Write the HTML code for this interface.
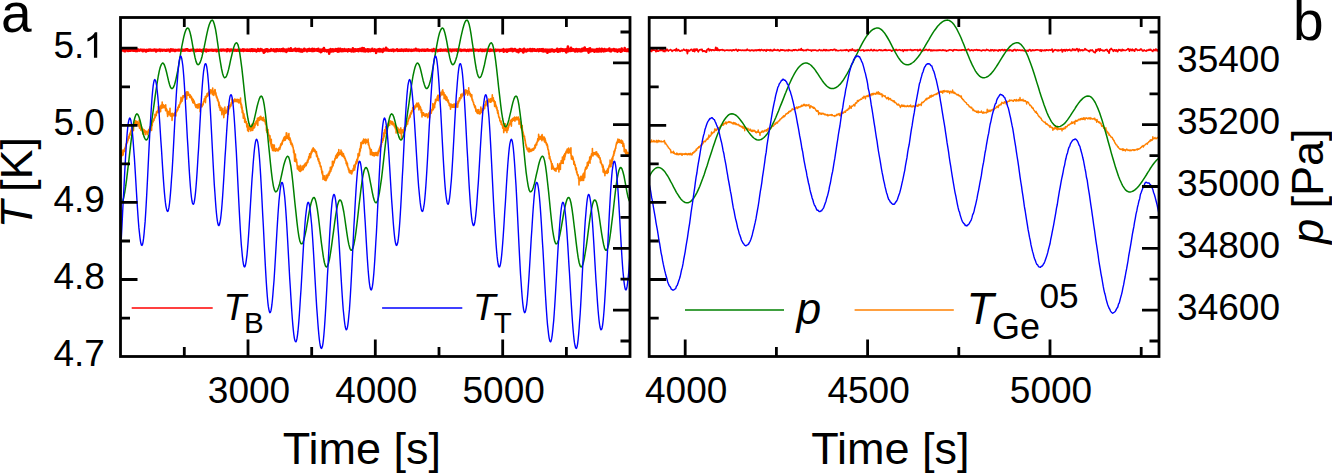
<!DOCTYPE html><html><head><meta charset="utf-8"><style>html,body{margin:0;padding:0;background:#fff;overflow:hidden}svg{display:block}</style></head><body>
<svg width="1332" height="473" viewBox="0 0 1332 473">
<rect width="1332" height="473" fill="#fff"/>
<defs><clipPath id="ca"><rect x="120.5" y="17.5" width="509.5" height="339.0"/></clipPath>
<clipPath id="cb"><rect x="649.2" y="17.5" width="509.8" height="339.0"/></clipPath></defs>
<path clip-path="url(#ca)" d="M120.6,50.0l.3,-.4l.2,1.2l.3,-1.6l.2,0l.3,1.2l.2,0l.3,.1l.2,-.5l.3,-.1l.2,-.2l.3,.5l.3,-.1l.2,-.8l.3,1.8l.2,-.5l.3,-1l.2,-.3l.3,-.2l.2,2.1l.3,-1.4l.2,-.7l.3,.7l.3,-.5l.2,.6l.3,.2l.2,0l.3,0l.2,-.4l.3,1.3l.2,-1.3l.3,1.1l.3,0l.2,-.8l.3,-.7l.2,1.4l.3,-.6l.2,-.7l.3,1.3l.2,-.5l.3,.3l.2,-.2l.3,-.8l.3,.7l.2,-.8l.3,.5l.2,.6l.3,-.1l.2,-1.5l.3,1.9l.2,-.6l.3,-.4l.2,-.5l.3,1.1l.3,.3l.2,-.8l.3,.7l.2,-.3l.3,-.4l.2,.6l.3,0l.2,.6l.3,-.9l.2,.1l.3,-.7l.3,.6l.2,.7l.3,-.2l.2,-1.1l.3,-.1l.2,.9l.3,-.4l.2,.3l.3,.3l.3,-.2l.2,-.1l.3,-.4l.2,.2l.3,-.4l.2,.3l.3,.3l.2,.1l.3,.1l.2,-.7l.3,.3l.3,.1l.2,-.2l.3,1.2l.2,-1.1l.3,.3l.2,-.5l.3,.2l.2,.2l.3,-.3l.2,-.1l.3,.6l.3,-.1l.2,.6l.3,-.4l.2,0l.3,.9l.2,-1.5l.3,.2l.2,-.2l.3,.4l.2,-.3l.3,.5l.3,-.4l.2,-.1l.3,-.2l.2,.7l.3,.1l.2,-.1l.3,-.9l.2,.6l.3,-.1l.2,.1l.3,-.6l.3,.5l.2,.1l.3,.3l.2,-.6l.3,.4l.2,0l.3,-.3l.2,-.1l.3,.2l.3,.3l.2,-.2l.3,-.4l.2,.5l.3,-.3l.2,-.3l.3,.6l.2,-.8l.3,.9l.2,.1l.3,0l.3,-.1l.2,.9l.3,-1.7l.2,0l.3,1.2l.2,-.8l.3,.1l.2,-.1l.3,.4l.2,0l.3,-.1l.3,-.2l.2,-.3l.3,.2l.2,.3l.3,-.1l.2,-.8l.3,.8l.2,.7l.3,-1.1l.2,.3l.3,.2l.3,-.5l.2,.1l.3,-.1l.2,-.1l.3,.4l.2,.4l.3,-.4l.2,0l.3,-.2l.3,.2l.2,-.1l.3,-.1l.2,.3l.3,-.3l.2,.3l.3,.1l.2,-.1l.3,.4l.2,-.3l.3,-.2l.3,-.2l.2,-.3l.3,.1l.2,.8l.3,-.7l.2,.1l.3,0l.2,.2l.3,-.4l.2,.1l.3,-.1l.3,.5l.2,0l.3,1.2l.2,-1.5l.3,.2l.2,.7l.3,-.6l.2,-.9l.3,1l.2,-.7l.3,.4l.3,.1l.2,-.1l.3,.1l.2,-.6l.3,1l.2,-.3l.3,.2l.2,-.3l.3,-.3l.3,.4l.2,.6l.3,.1l.2,-.6l.3,0l.2,-.3l.3,-.2l.2,.6l.3,-.3l.2,.1l.3,-.1l.3,.1l.2,-.3l.3,.3l.2,.1l.3,.1l.2,-.8l.3,.8l.2,0l.3,-.6l.2,.3l.3,.2l.3,-.6l.2,.1l.3,.2l.2,.1l.3,.1l.2,-.2l.3,.5l.2,-.3l.3,-.6l.2,1l.3,-.2l.3,0l.2,-.6l.3,.2l.2,.3l.3,-.2l.2,.4l.3,-.4l.2,-.4l.3,.5l.2,-.5l.3,.1l.3,.5l.2,-.2l.3,-.9l.2,.7l.3,-.2l.2,.2l.3,0l.2,-.7l.3,1.1l.3,.1l.2,0l.3,-.6l.2,.1l.3,.6l.2,-.3l.3,0l.2,.5l.3,0l.2,-.6l.3,0l.3,-.2l.2,-.1l.3,.3l.2,0l.3,0l.2,.2l.3,-.5l.2,-.3l.3,.2l.2,.5l.3,-.1l.3,-.8l.2,.9l.3,-.1l.2,-.3l.3,.1l.2,0l.3,.2l.2,.2l.3,-.4l.2,1.1l.3,-.6l.3,-.4l.2,-.2l.3,.6l.2,.1l.3,-.8l.2,.6l.3,-.2l.2,.2l.3,.2l.3,-.6l.2,.6l.3,-.1l.2,.1l.3,-.8l.2,.3l.3,-.2l.2,.3l.3,.5l.2,-.4l.3,.1l.3,-.1l.2,-.1l.3,1.3l.2,-1.5l.3,-.2l.2,0l.3,.3l.2,.4l.3,-.5l.2,.3l.3,-.4l.3,0l.2,.4l.3,.3l.2,-.1l.3,-.8l.2,.7l.3,-.1l.2,.5l.3,.5l.2,-1.3l.3,-.4l.3,.9l.2,.2l.3,-.6l.2,.4l.3,-.3l.2,0l.3,.4l.2,-.3l.3,-.5l.2,.5l.3,-.3l.3,0l.2,.4l.3,-.1l.2,0l.3,-.4l.2,-.1l.3,.4l.2,.1l.3,-.5l.3,.3l.2,.1l.3,-.3l.2,.8l.3,-.5l.2,.5l.3,-.5l.2,.1l.3,0l.2,-.2l.3,-.1l.3,.4l.2,-.1l.3,0l.2,-.4l.3,.4l.2,-.1l.3,-.1l.2,1.2l.3,-1.4l.2,.3l.3,-.2l.3,.3l.2,.2l.3,-.3l.2,.4l.3,-.5l.2,.4l.3,-.3l.2,.1l.3,-.2l.2,.4l.3,0l.3,-.7l.2,.5l.3,-.3l.2,-.4l.3,.3l.2,.7l.3,-.1l.2,-.5l.3,.1l.3,-.4l.2,.4l.3,-.1l.2,.2l.3,-.5l.2,.8l.3,-.4l.2,.3l.3,-.1l.2,-.1l.3,.1l.3,-.2l.2,.1l.3,-.3l.2,.4l.3,-.4l.2,1.3l.3,-1.4l.2,-.5l.3,.5l.2,.4l.3,-.1l.3,-.5l.2,-.1l.3,.5l.2,.2l.3,-.1l.2,1l.3,-1.3l.2,.4l.3,0l.2,-.3l.3,.1l.3,-.3l.2,-.1l.3,.7l.2,-.1l.3,0l.2,-.1l.3,-.1l.2,.4l.3,-.2l.2,.1l.3,-.3l.3,.4l.2,.2l.3,-.4l.2,-.2l.3,.5l.2,-.6l.3,.2l.2,.1l.3,0l.3,.4l.2,-.1l.3,-.3l.2,.4l.3,-.5l.2,-.3l.3,.4l.2,.2l.3,.1l.2,.1l.3,-.2l.3,-.3l.2,.1l.3,-.1l.2,.3l.3,-.5l.2,.3l.3,.1l.2,-.1l.3,.4l.2,-.5l.3,-.1l.3,.4l.2,-.5l.3,.2l.2,.2l.3,0l.2,-.9l.3,1.6l.2,-1.3l.3,.5l.2,-.6l.3,.9l.3,-.3l.2,.1l.3,-.2l.2,.3l.3,-.1l.2,-.4l.3,.4l.2,.2l.3,-.6l.3,.2l.2,.3l.3,-.7l.2,1l.3,-.8l.2,.5l.3,-.2l.2,.1l.3,.3l.2,-.1l.3,-.8l.3,.2l.2,.5l.3,-.3l.2,.8l.3,-.2l.2,-.5l.3,-.9l.2,1.4l.3,-.8l.2,.9l.3,-.9l.3,1.1l.2,-1.8l.3,1.1l.2,.1l.3,-.5l.2,.1l.3,-.1l.2,0l.3,.8l.2,-.5l.3,-.6l.3,.2l.2,1l.3,-.1l.2,-.2l.3,.9l.2,-1.2l.3,.2l.2,.2l.3,-.2l.3,.2l.2,-1.5l.3,1.1l.2,-.4l.3,.4l.2,.5l.3,-1l.2,1.3l.3,-.6l.2,.3l.3,-.3l.3,-.1l.2,-1.2l.3,.7l.2,.3l.3,-.2l.2,.5l.3,-.3l.2,-.4l.3,1l.2,.1l.3,-.7l.3,.8l.2,.2l.3,1.7l.2,-2.3l.3,.7l.2,-.8l.3,1.6l.2,-2.2l.3,1.2l.2,0l.3,-.2l.3,-.7l.2,-.7l.3,1.6l.2,-1.7l.3,0l.2,0l.3,1.5l.2,.5l.3,-.6l.2,-.1l.3,-.6l.3,.6l.2,-.5l.3,.1l.2,.8l.3,-.5l.2,.4l.3,-.8l.2,.4l.3,-.5l.3,-.8l.2,.9l.3,.2l.2,-.3l.3,.1l.2,0l.3,.4l.2,-.3l.3,-.2l.2,.4l.3,-1l.3,1.5l.2,-.9l.3,.5l.2,.3l.3,.6l.2,-1.6l.3,-.1l.2,1.1l.3,-1.3l.2,1.2l.3,.5l.3,-1.8l.2,.4l.3,-.5l.2,1l.3,-.3l.2,-.3l.3,.3l.2,-.1l.3,.9l.2,-1l.3,-.4l.3,1.4l.2,-.8l.3,.2l.2,.7l.3,0l.2,-.8l.3,-.2l.2,-.6l.3,1.2l.3,-.2l.2,-.8l.3,1.5l.2,-.7l.3,-.1l.2,-1.5l.3,2.3l.2,-.4l.3,-.4l.2,-.2l.3,-.4l.3,1.5l.2,-.2l.3,-.8l.2,.5l.3,.1l.2,-.4l.3,-.8l.2,2.4l.3,-2l.2,.5l.3,-.4l.3,.3l.2,.4l.3,-.5l.2,-.3l.3,-1l.2,1.5l.3,-.7l.2,.2l.3,-.5l.2,1.3l.3,-.9l.3,.2l.2,.8l.3,-2.6l.2,1l.3,.8l.2,.6l.3,-.1l.2,.1l.3,-.8l.2,1l.3,-1l.3,.3l.2,.3l.3,-.3l.2,.1l.3,-.8l.2,.4l.3,.2l.2,.4l.3,-1.6l.3,2l.2,-2l.3,1.9l.2,-.5l.3,.8l.2,-1.4l.3,.9l.2,-1.3l.3,0l.2,-.1l.3,1.2l.3,-.1l.2,-.6l.3,1.3l.2,-.7l.3,-1.3l.2,.8l.3,.8l.2,-.1l.3,-.2l.2,1.3l.3,-1l.3,-1l.2,.9l.3,-.3l.2,1.1l.3,.5l.2,-.9l.3,-1l.2,.7l.3,-.4l.2,.8l.3,-.8l.3,-.6l.2,1.4l.3,-2.1l.2,1.1l.3,.1l.2,-.8l.3,.7l.2,-.3l.3,.2l.3,.7l.2,.2l.3,.5l.2,-1l.3,-.5l.2,1.4l.3,-.6l.2,-.5l.3,-.6l.2,1.2l.3,-.8l.3,.1l.2,0l.3,-1l.2,1.3l.3,.4l.2,0l.3,-.3l.2,.2l.3,-.7l.2,-.2l.3,-.1l.3,-.5l.2,1.1l.3,1l.2,-2.2l.3,1.1l.2,.8l.3,-.2l.2,0l.3,-.7l.2,1l.3,-1.8l.3,1.6l.2,-.1l.3,-.6l.2,-.5l.3,.4l.2,.1l.3,-.5l.2,.9l.3,-.3l.2,-.8l.3,1.1l.3,.2l.2,0l.3,-.5l.2,.3l.3,-1.7l.2,1.3l.3,1l.2,.1l.3,-1.2l.3,.4l.2,.2l.3,-.6l.2,-.2l.3,2.5l.2,-2.5l.3,.7l.2,1.6l.3,-1.9l.2,.3l.3,-.8l.3,.4l.2,.3l.3,-.9l.2,.5l.3,.8l.2,-.8l.3,-1.9l.2,1.2l.3,.9l.2,1l.3,-.9l.3,-.1l.2,-.1l.3,0l.2,.1l.3,.3l.2,0l.3,1l.2,-.6l.3,-.5l.2,.4l.3,-.2l.3,-.4l.2,.3l.3,.8l.2,-.5l.3,.3l.2,2.7l.3,-3.8l.2,.4l.3,.7l.3,-.1l.2,-.7l.3,-1l.2,.5l.3,1.7l.2,-1l.3,-.1l.2,-.2l.3,-.5l.2,1.3l.3,-1.6l.3,2.1l.2,-1.3l.3,.9l.2,-1l.3,.9l.2,-.5l.3,0l.2,-.8l.3,1l.2,-.4l.3,-1l.3,1.6l.2,-1.6l.3,1.7l.2,-1.3l.3,-.3l.2,-.2l.3,.8l.2,1.1l.3,.6l.2,-.8l.3,-2l.3,1.4l.2,1.3l.3,-.7l.2,-.2l.3,-.1l.2,-.6l.3,-1.1l.2,1.2l.3,-.8l.3,.7l.2,1.3l.3,-1.3l.2,.2l.3,-.1l.2,-.7l.3,.8l.2,-.2l.3,1.2l.2,-.4l.3,-.3l.3,.3l.2,-.2l.3,.3l.2,-1.8l.3,.6l.2,0l.3,.9l.2,-.3l.3,0l.2,.6l.3,-.6l.3,-.1l.2,-.6l.3,.6l.2,.9l.3,-.2l.2,.5l.3,-1.5l.2,.6l.3,-1.2l.2,.8l.3,-.3l.3,.7l.2,.3l.3,-.8l.2,.1l.3,-.2l.2,-.2l.3,.8l.2,.8l.3,-1.2l.2,1.4l.3,-1.2l.3,.5l.2,-1.3l.3,1l.2,-2l.3,.7l.2,.4l.3,2l.2,-.7l.3,-.2l.3,-.5l.2,1l.3,.1l.2,-2l.3,.8l.2,.4l.3,-.4l.2,.8l.3,-.7l.2,-.2l.3,.7l.3,-1.2l.2,.8l.3,.1l.2,.3l.3,-1.3l.2,1.9l.3,-1.1l.2,-.2l.3,.3l.2,.3l.3,-.2l.3,-1.5l.2,1.7l.3,-.1l.2,-.7l.3,1.2l.2,-1l.3,.1l.2,.2l.3,.7l.2,-2.8l.3,1l.3,.2l.2,.6l.3,1.2l.2,.1l.3,-2.9l.2,1.9l.3,-.1l.2,0l.3,.1l.3,1.2l.2,-1.8l.3,1.3l.2,.1l.3,-.3l.2,-.2l.3,-.9l.2,.8l.3,-.3l.2,-.8l.3,1.9l.3,-1l.2,1.2l.3,-1.4l.2,.5l.3,-1.1l.2,1l.3,.5l.2,-.7l.3,-.1l.2,-.4l.3,.5l.3,.9l.2,-.8l.3,0l.2,-.1l.3,-.3l.2,.9l.3,-2l.2,1.8l.3,-.4l.2,-.4l.3,.9l.3,.2l.2,-.2l.3,-.4l.2,.3l.3,-.6l.2,-.6l.3,.7l.2,-.1l.3,.6l.2,-.9l.3,3.2l.3,-2.9l.2,.6l.3,.1l.2,-.7l.3,-.3l.2,-.1l.3,1.2l.2,.2l.3,-1.7l.3,2l.2,-1.9l.3,.8l.2,-1.1l.3,1.6l.2,.8l.3,-1.3l.2,-.4l.3,-.2l.2,.4l.3,-.5l.3,1.7l.2,-.6l.3,.4l.2,-.2l.3,.6l.2,.4l.3,-2.2l.2,0l.3,-.7l.2,1.8l.3,-.9l.3,-.1l.2,.8l.3,-.5l.2,-.1l.3,.4l.2,0l.3,-.1l.2,-2.4l.3,2.4l.2,-1.8l.3,2.1l.3,-.8l.2,.7l.3,-.3l.2,-.2l.3,.2l.2,-.4l.3,.6l.2,-.3l.3,.7l.3,-.3l.2,-.2l.3,0l.2,-.1l.3,.3l.2,-.2l.3,.3l.2,-.4l.3,0l.2,.6l.3,-.4l.3,-.5l.2,.5l.3,-.1l.2,-.5l.3,-.2l.2,1l.3,.6l.2,-1.3l.3,.4l.2,-.1l.3,0l.3,.3l.2,-.1l.3,-.2l.2,.3l.3,.1l.2,-.4l.3,.2l.2,0l.3,-1l.2,.8l.3,.2l.3,-.1l.2,.6l.3,-.5l.2,-.3l.3,.5l.2,-.3l.3,.5l.2,-.5l.3,.2l.2,-.5l.3,.8l.3,-.6l.2,-.2l.3,.4l.2,-.6l.3,.9l.2,-.8l.3,0l.2,.4l.3,.3l.3,-.6l.2,.4l.3,-.2l.2,.8l.3,-1.2l.2,.4l.3,.1l.2,-.2l.3,.5l.2,-.7l.3,.8l.3,-.5l.2,.6l.3,-.4l.2,-.9l.3,.7l.2,.1l.3,0l.2,.2l.3,-.6l.2,.3l.3,.8l.3,-.2l.2,-.9l.3,.4l.2,-.4l.3,.4l.2,-.2l.3,.5l.2,-.2l.3,.3l.2,-.6l.3,.1l.3,.7l.2,-1.1l.3,.4l.2,.3l.3,-.1l.2,.3l.3,.1l.2,-.7l.3,-.1l.3,.4l.2,-.5l.3,.1l.2,.5l.3,-.1l.2,-.1l.3,-.6l.2,.4l.3,.1l.2,-1.3l.3,1.3l.3,-.2l.2,.6l.3,-.2l.2,0l.3,-.1l.2,.3l.3,-.9l.2,0l.3,.4l.2,.2l.3,0l.3,-.2l.2,.9l.3,-.8l.2,.2l.3,-.2l.2,0l.3,0l.2,.1l.3,.3l.2,.1l.3,.1l.3,-.5l.2,-.5l.3,.4l.2,.4l.3,-.3l.2,.3l.3,0l.2,-.8l.3,.3l.3,.7l.2,-1l.3,.7l.2,-.2l.3,.3l.2,-.3l.3,.3l.2,-.6l.3,0l.2,0l.3,.4l.3,-.4l.2,-.4l.3,-.1l.2,1l.3,-.4l.2,.4l.3,.1l.2,.1l.3,-.2l.2,-.1l.3,-.2l.3,.4l.2,-.3l.3,.1l.2,0l.3,-.2l.2,-.1l.3,.4l.2,-.6l.3,.4l.2,0l.3,.9l.3,-1l.2,-.3l.3,.5l.2,.1l.3,-1.3l.2,1.1l.3,.1l.2,-.2l.3,.9l.2,-.8l.3,.4l.3,-.8l.2,.5l.3,-.4l.2,.3l.3,.1l.2,0l.3,-.1l.2,-.1l.3,-.1l.3,1.1l.2,-.8l.3,0l.2,.1l.3,-.4l.2,.4l.3,-.3l.2,0l.3,.5l.2,-.5l.3,-.5l.3,.7l.2,.3l.3,-.1l.2,-.8l.3,.8l.2,-.1l.3,-.2l.2,.4l.3,-.1l.2,-.3l.3,-.2l.3,-.2l.2,.6l.3,-.3l.2,.3l.3,.1l.2,-.3l.3,-.3l.2,.5l.3,-.7l.2,.7l.3,0l.3,-.2l.2,-.1l.3,.1l.2,-.2l.3,.4l.2,.7l.3,-.8l.2,0l.3,-.4l.3,.1l.2,.3l.3,-.7l.2,.6l.3,.2l.2,-.4l.3,0l.2,-.3l.3,.3l.2,.4l.3,-.2l.3,-.2l.2,1.3l.3,-1.2l.2,-.2l.3,.5l.2,-.5l.3,.6l.2,-.6l.3,.1l.2,.1l.3,-.2l.3,-.2l.2,.7l.3,-.4l.2,.4l.3,-.3l.2,-.2l.3,-.1l.2,.2l.3,0l.2,-.3l.3,1l.3,-.6l.2,.1l.3,-.7l.2,.6l.3,1.1l.2,-.5l.3,-.6l.2,.3l.3,-.2l.2,-.3l.3,-.2l.3,.1l.2,.4l.3,.2l.2,-.7l.3,.1l.2,.3l.3,.7l.2,-.8l.3,.6l.3,-.2l.2,-.3l.3,.3l.2,0l.3,-.3l.2,.4l.3,-.4l.2,.4l.3,-.5l.2,.3l.3,-.3l.3,.4l.2,.1l.3,-.6l.2,.2l.3,.2l.2,-.1l.3,.1l.2,.6l.3,-.5l.2,.2l.3,-.2l.3,-.5l.2,-.1l.3,.2l.2,.1l.3,.1l.2,.8l.3,-1.1l.2,-.1l.3,.3l.2,-.2l.3,.1l.3,.3l.2,-.2l.3,.4l.2,-.4l.3,.2l.2,-.2l.3,.2l.2,-.5l.3,.3l.3,-.2l.2,.4l.3,-.1l.2,-.3l.3,.3l.2,-.6l.3,-.3l.2,.5l.3,.7l.2,.1l.3,-.5l.3,-.3l.2,.7l.3,0l.2,-.5l.3,0l.2,.1l.3,-.3l.2,.1l.3,.4l.2,-.1l.3,-.3l.3,.5l.2,0l.3,.4l.2,-.5l.3,-.2l.2,0l.3,0l.2,.4l.3,-.2l.2,-.8l.3,.5l.3,-.1l.2,.5l.3,0l.2,.4l.3,-1l.2,.7l.3,-.6l.2,.1l.3,.8l.2,-.9l.3,.5l.3,-.3l.2,.2l.3,0l.2,.6l.3,-1l.2,0l.3,.6l.2,-.6l.3,0l.3,-.2l.2,.7l.3,.1l.2,-.8l.3,.5l.2,-.2l.3,.4l.2,.2l.3,-.5l.2,.5l.3,-.8l.3,.2l.2,.7l.3,-.4l.2,.7l.3,-1.1l.2,.1l.3,-.4l.2,.9l.3,.1l.2,-.9l.3,.3l.3,.3l.2,-.1l.3,-.1l.2,.4l.3,-.1l.2,-.3l.3,.2l.2,.2l.3,.3l.2,-.6l.3,.1l.3,.5l.2,-.5l.3,.7l.2,-.9l.3,-.4l.2,.3l.3,.8l.2,-.3l.3,-.5l.3,.5l.2,-.3l.3,.2l.2,-.3l.3,-.2l.2,-.1l.3,.2l.2,0l.3,.1l.2,.4l.3,-.5l.3,1.1l.2,-1.1l.3,.5l.2,-.1l.3,.2l.2,-.5l.3,.6l.2,-.8l.3,.2l.2,0l.3,.4l.3,-.5l.2,0l.3,.2l.2,-.4l.3,-.6l.2,2.5l.3,-1.3l.2,0l.3,-.6l.2,.1l.3,.4l.3,-.2l.2,.7l.3,-.9l.2,.5l.3,0l.2,-.4l.3,-.4l.2,2.1l.3,-1.8l.3,.4l.2,-.5l.3,1.1l.2,-1.3l.3,.1l.2,.8l.3,-.7l.2,.3l.3,-.5l.2,1l.3,0l.3,-.1l.2,-1.4l.3,.5l.2,.7l.3,-.8l.2,.8l.3,-.6l.2,-.8l.3,1l.2,1.3l.3,-2l.3,.7l.2,.7l.3,-.4l.2,-.3l.3,.7l.2,-.3l.3,-.2l.2,-1.1l.3,.9l.2,-.2l.3,.6l.3,.1l.2,.4l.3,.6l.2,-1.3l.3,.1l.2,.2l.3,-.3l.2,.7l.3,.8l.2,.2l.3,.4l.3,-2.4l.2,1.2l.3,-1.4l.2,.4l.3,-.8l.2,1.7l.3,-1.7l.2,1l.3,-.2l.3,.5l.2,-.2l.3,.5l.2,-.3l.3,-.5l.2,0l.3,-.5l.2,1.4l.3,0l.2,1.6l.3,-2.9l.3,.2l.2,-1l.3,.9l.2,.3l.3,1.1l.2,-1.2l.3,.4l.2,.5l.3,-.9l.2,1.3l.3,.1l.3,-1.6l.2,.5l.3,-.5l.2,.9l.3,.1l.2,-1.2l.3,1l.2,-.6l.3,.3l.2,.3l.3,-.1l.3,-.5l.2,-.3l.3,-.6l.2,.3l.3,1.7l.2,-1.5l.3,.2l.2,.8l.3,-1.1l.3,1l.2,-.2l.3,.8l.2,-1.6l.3,-.2l.2,.4l.3,.8l.2,-.2l.3,-.1l.2,.2l.3,-.9l.3,0l.2,.6l.3,.8l.2,0l.3,-.8l.2,.4l.3,.3l.2,.2l.3,-.8l.2,.3l.3,-.2l.3,-.5l.2,.5l.3,-.8l.2,.9l.3,.5l.2,.3l.3,-1.4l.2,.4l.3,.5l.2,-1.3l.3,.3l.3,1.2l.2,-.8l.3,.5l.2,0l.3,-1.1l.2,1.2l.3,-1.4l.2,1.8l.3,-1.1l.2,0l.3,-.5l.3,-.2l.2,2.3l.3,-1.1l.2,.1l.3,0l.2,-.5l.3,1.2l.2,-1.3l.3,1.2l.3,-.5l.2,.7l.3,-1.1l.2,-.5l.3,.1l.2,.2l.3,.9l.2,.1l.3,-1.2l.2,3l.3,-2.6l.3,-.2l.2,1.4l.3,-.7l.2,-.1l.3,-.8l.2,.1l.3,.2l.2,1.6l.3,-1.9l.2,1.5l.3,-1.3l.3,.4l.2,.5l.3,.3l.2,-1.6l.3,.7l.2,.7l.3,-1.5l.2,.4l.3,-.1l.2,1.5l.3,-1.1l.3,.8l.2,-.2l.3,.8l.2,-1.1l.3,-.4l.2,.5l.3,.4l.2,-1l.3,.6l.3,-.1l.2,-.1l.3,.2l.2,-.3l.3,-.2l.2,-1.4l.3,.9l.2,2l.3,-1.7l.2,.8l.3,.9l.3,-1.8l.2,1.5l.3,-1l.2,-.9l.3,.7l.2,.5l.3,.6l.2,-.8l.3,-1.3l.2,1l.3,-.9l.3,.7l.2,-.2l.3,-.3l.2,.9l.3,.5l.2,-1.5l.3,.6l.2,.7l.3,-1l.2,1l.3,-.6l.3,0l.2,-.4l.3,1.2l.2,-.7l.3,-.6l.2,.2l.3,2.2l.2,-1.4l.3,2l.2,-3.4l.3,1.4l.3,-.8l.2,.4l.3,.4l.2,-4l.3,3.1l.2,1.7l.3,-.2l.2,-.5l.3,-1.4l.3,.8l.2,.3l.3,-.6l.2,.5l.3,0l.2,.7l.3,-3.2l.2,2.5l.3,-1.4l.2,.7l.3,1.2l.3,-.3l.2,.1l.3,-1.3l.2,.6l.3,-.5l.2,.8l.3,-.1l.2,0l.3,.9l.2,-1.2l.3,.3l.3,-.5l.2,2l.3,-.8l.2,.3l.3,-1.2l.2,-.8l.3,.6l.2,.2l.3,.4l.2,1.2l.3,-1.2l.3,-.4l.2,-.4l.3,1.2l.2,-.7l.3,1.1l.2,.2l.3,-.8l.2,-1l.3,1.4l.3,.1l.2,-.2l.3,-.6l.2,1.3l.3,-1.9l.2,1.7l.3,-2.2l.2,1.2l.3,-1.2l.2,1.9l.3,-1.3l.3,.5l.2,0l.3,.3l.2,-2.2l.3,2.1l.2,-1.6l.3,1.7l.2,-2.9l.3,2.4l.2,.6l.3,-.8l.3,.6l.2,-.8l.3,1l.2,-.3l.3,-.9l.2,.8l.3,.3l.2,-.2l.3,0l.2,-.8l.3,1l.3,2.2l.2,-1.8l.3,-2l.2,1.5l.3,-.1l.2,-.2l.3,-1.6l.2,2.4l.3,.5l.3,-.5l.2,.1l.3,-.1l.2,-1l.3,1.2l.2,-.7l.3,-.6l.2,-.1l.3,.6l.2,-.1l.3,-.2l.3,-.1l.2,1.5l.3,-.8l.2,1.2l.3,-1.3l.2,-.5l.3,.6l.2,-.8l.3,.3l.2,.2l.3,.9l.3,-.3l.2,.5l.3,-2.3l.2,.9l.3,.5l.2,1.1l.3,-.9l.2,.6l.3,-.8l.2,1.1l.3,-2l.3,-.7l.2,1.3l.3,-.8l.2,2l.3,-1.3l.2,-.4l.3,.1l.2,.7l.3,1.1l.2,-.8l.3,-2l.3,1.2l.2,.5l.3,.6l.2,-.5l.3,-.9l.2,.3l.3,-.2l.2,1.7l.3,-.3l.3,-1.1l.2,-1l.3,.6l.2,.6l.3,.3l.2,-.3l.3,.7l.2,-.3l.3,.1l.2,-1.2l.3,1l.3,-.6l.2,.5l.3,-.3l.2,-.3l.3,-.5l.2,1.1l.3,-.2l.2,0l.3,.1l.2,-1.8l.3,1.2l.3,1.4l.2,-1.2l.3,.4l.2,.7l.3,.3l.2,-.9l.3,-.8l.2,.9l.3,-.1l.2,-.8l.3,.1l.3,-.1l.2,-.2l.3,.6l.2,.1l.3,-1.1l.2,1.6l.3,-.4l.2,.8l.3,-.7l.3,-.8l.2,.6l.3,.2l.2,.5l.3,-.2l.2,-.2l.3,-.3l.2,-.4l.3,.3l.2,1.7l.3,-1.1l.3,.3l.2,-.8l.3,.6l.2,.1l.3,-1.1l.2,1.2l.3,-1l.2,.2l.3,.1l.2,-.5l.3,1.1l.3,.4l.2,.5l.3,-1.5l.2,.6l.3,-2.2l.2,2.7l.3,-.8l.2,-.7l.3,.5l.2,-.4l.3,.2l.3,.1l.2,-.1l.3,.1l.2,-.4l.3,.9l.2,-2.6l.3,1.1l.2,.7l.3,.3l.2,.3l.3,.3l.3,-.7l.2,-.3l.3,.9l.2,.3l.3,-.9l.2,.4l.3,.2l.2,-1.4l.3,.9l.3,.9l.2,-1.2l.3,.5l.2,.2l.3,-.1l.2,-.5l.3,.1" fill="none" stroke="#ff0000" stroke-width="2.6" stroke-linejoin="round"/>
<path clip-path="url(#ca)" d="M120.6,152.4l.1,3l.2,-.7l.1,-1.4l.1,4.5l.1,-1.5l.2,-2.4l.1,-.4l.1,-1.2l.1,2.5l.2,-1.1l.1,-.4l.1,2.3l.2,-3.4l.1,1l.1,1.6l.1,-2l.2,2.3l.1,-5l.1,2.2l.1,2.7l.2,-1l.1,-1.2l.1,-.4l.2,-.2l.1,-.5l.1,-.7l.1,.6l.2,-.6l.1,-.4l.1,-.8l.1,-.6l.2,-.6l.1,2.5l.1,-1.9l.2,-1.1l.1,-.6l.1,.8l.1,0l.2,-2.1l.1,.4l.1,-1l.1,-1.1l.2,1.1l.1,-1.7l.1,.8l.2,-1.5l.1,.8l.1,-.3l.1,-.6l.2,-.9l.1,-.7l.1,.1l.2,.9l.1,-1.9l.1,.9l.1,-.4l.2,-1.7l.1,.5l.1,-1.5l.1,1.8l.2,-3.1l.1,-.5l.1,1.7l.2,-1.5l.1,-.4l.1,.9l.1,.8l.2,-3.4l.1,.8l.1,-.2l.1,0l.2,.1l.1,-2l.1,.6l.2,1l.1,-1.9l.1,-.8l.1,.5l.2,.3l.1,-2l.1,-.3l.1,.9l.2,-1.6l.1,-.3l.1,.5l.2,-2.3l.1,2.3l.1,-1.1l.1,.4l.2,.6l.1,-1.6l.1,-.9l.1,-.1l.2,-.8l.1,.4l.1,-1.4l.2,.4l.1,-1.3l.1,.8l.1,.4l.2,4.5l.1,-4.4l.1,-.9l.1,-1.4l.2,.3l.1,-.3l.1,-.9l.2,1.4l.1,-1.7l.1,-.5l.1,2l.2,-1.1l.1,-.9l.1,.8l.1,.2l.2,-1.5l.1,-1l.1,1.4l.2,1.3l.1,.9l.1,-2.4l.1,.7l.2,.8l.1,-2l.1,1l.1,-.4l.2,.1l.1,.2l.1,.3l.2,-1.1l.1,1.7l.1,-1.4l.1,1.5l.2,0l.1,1.2l.1,-.3l.1,.7l.2,-.4l.1,1.4l.1,-3l.2,1.9l.1,.3l.1,.7l.1,-1.4l.2,.6l.1,-5l.1,6.4l.2,1.7l.1,-2.5l.1,1.3l.1,.2l.2,-.7l.1,.2l.1,-1.5l.1,1.2l.2,.4l.1,-2l.1,5.4l.2,-3.9l.1,1.7l.1,.5l.1,-.1l.2,-1.9l.1,1.7l.1,-.9l.1,2.3l.2,-.3l.1,-.4l.1,.1l.2,0l.1,2.5l.1,-2.8l.1,1.8l.2,3.5l.1,-3.9l.1,.2l.1,-.5l.2,-.2l.1,.7l.1,1.9l.2,-2.6l.1,1.4l.1,.5l.1,-.2l.2,-1.5l.1,2.8l.1,-.1l.1,-2l.2,.2l.1,.6l.1,-.2l.2,0l.1,3.8l.1,-3.3l.1,1.6l.2,-1.4l.1,.7l.1,-1.3l.1,0l.2,.1l.1,.7l.1,.5l.2,-.5l.1,.7l.1,-.9l.1,.1l.2,.6l.1,-.3l.1,2.7l.1,-2.7l.2,.5l.1,1l.1,-1.8l.2,.6l.1,-.2l.1,-1.5l.1,1.4l.2,-.2l.1,-1.4l.1,0l.1,-1l.2,0l.1,.5l.1,.8l.2,-.9l.1,-1.2l.1,1.1l.1,-.7l.2,.3l.1,.6l.1,-.9l.1,-2.2l.2,.4l.1,1l.1,-.2l.2,-.4l.1,-.4l.1,-.6l.1,-1l.2,-1.9l.1,3.9l.1,-2.6l.2,5.3l.1,-6.3l.1,.7l.1,-.3l.2,.2l.1,1l.1,-1.6l.1,-1.6l.2,-1.4l.1,.8l.1,-.7l.2,.3l.1,.4l.1,0l.1,-.9l.2,-.7l.1,-1.3l.1,1.7l.1,-1.4l.2,1.2l.1,-.9l.1,-.8l.2,-.5l.1,.1l.1,-1.3l.1,.1l.2,-.8l.1,-2.2l.1,3.4l.1,-1.9l.2,-.6l.1,.1l.1,.1l.2,-.9l.1,1.4l.1,0l.1,-.9l.2,.7l.1,-3.7l.1,1.1l.1,-1.2l.2,.2l.1,.2l.1,-.9l.2,.5l.1,-.1l.1,.9l.1,-1.8l.2,.1l.1,.9l.1,.4l.1,-1.7l.2,-.9l.1,-3.1l.1,1.3l.2,1.7l.1,-1.4l.1,1.8l.1,-2.6l.2,5.6l.1,-4.1l.1,-1.3l.1,.4l.2,.3l.1,-.1l.1,0l.2,-1.1l.1,1l.1,-1.4l.1,-.6l.2,.4l.1,5.4l.1,-3.6l.1,-1.8l.2,-1.1l.1,.8l.1,-.3l.2,-.1l.1,-.1l.1,.9l.1,1.7l.2,-3.5l.1,1.3l.1,.4l.1,-4.4l.2,3.2l.1,.6l.1,.1l.2,-.6l.1,-.2l.1,2.8l.1,-2.3l.2,1.2l.1,-2l.1,.8l.2,.1l.1,.2l.1,.2l.1,-.6l.2,.1l.1,1.7l.1,-1l.1,-.6l.2,1.5l.1,.7l.1,-1l.2,-1.3l.1,2.5l.1,-1.1l.1,-.9l.2,4.5l.1,-5.9l.1,4l.1,.1l.2,-.3l.1,-.2l.1,2.3l.2,-1.8l.1,2.1l.1,-1.1l.1,1.2l.2,-1.1l.1,.8l.1,2.3l.1,.8l.2,-1.9l.1,4.6l.1,-3.1l.2,.6l.1,-1.7l.1,.6l.1,-1.1l.2,2.9l.1,-2.6l.1,.5l.1,1.2l.2,-2.4l.1,3.3l.1,-.1l.2,-.7l.1,-.6l.1,.4l.1,.4l.2,-.3l.1,-1.1l.1,-4.4l.1,5.5l.2,-.3l.1,2.5l.1,-1l.2,-.5l.1,1.5l.1,-2.3l.1,2.6l.2,-.6l.1,-1.5l.1,1.4l.1,-2.1l.2,2.1l.1,.6l.1,-2l.2,6.2l.1,-5l.1,.4l.1,-2.6l.2,.6l.1,1.2l.1,-.2l.1,.2l.2,-.7l.1,-.2l.1,1.5l.2,-1l.1,.9l.1,-.4l.1,-.8l.2,1l.1,-1.6l.1,2.1l.2,-.4l.1,-.2l.1,-2.2l.1,1.8l.2,-.5l.1,-.8l.1,1.1l.1,-.6l.2,-1.3l.1,.8l.1,-.1l.2,1.2l.1,1.4l.1,-5l.1,1.1l.2,.2l.1,-1.3l.1,1.2l.1,-1.3l.2,.2l.1,.3l.1,-1.9l.2,.6l.1,.4l.1,-.4l.1,-1.3l.2,-.6l.1,-.6l.1,2.4l.1,-2.9l.2,1.2l.1,-.5l.1,-.8l.2,.3l.1,-1.3l.1,-.1l.1,-.9l.2,.8l.1,-1l.1,2.5l.1,-1.7l.2,-1.2l.1,.2l.1,-.3l.2,-.3l.1,-.4l.1,-1.5l.1,.1l.2,1.3l.1,-.8l.1,-2.3l.1,-.1l.2,-3l.1,4.6l.1,.2l.2,-1.9l.1,-1.5l.1,.7l.1,.5l.2,-.2l.1,-.7l.1,2.2l.1,-2.5l.2,1.3l.1,-2l.1,-.1l.2,-.8l.1,-1.3l.1,-.1l.1,2.1l.2,-2.1l.1,.1l.1,.1l.1,.7l.2,-.5l.1,.5l.1,-.4l.2,.3l.1,-.9l.1,.1l.1,.2l.2,-.8l.1,1.8l.1,-3l.1,1.1l.2,-.3l.1,-.3l.1,.4l.2,-.7l.1,2.3l.1,-.5l.1,-3.6l.2,2.6l.1,0l.1,.7l.2,-1.2l.1,-1.2l.1,5.9l.1,-7.2l.2,1.1l.1,1.7l.1,-1.2l.1,.3l.2,1l.1,.5l.1,-2.3l.2,-1.1l.1,3.3l.1,-.6l.1,-1.9l.2,.3l.1,1.4l.1,-1.4l.1,1.3l.2,.9l.1,0l.1,-.6l.2,.1l.1,.2l.1,1.1l.1,-.2l.2,1.6l.1,-2l.1,.4l.1,-1.1l.2,1.3l.1,.8l.1,-.6l.2,-.3l.1,1l.1,-.3l.1,.3l.2,1.1l.1,-1l.1,-.5l.1,2l.2,.6l.1,.6l.1,.5l.2,-1.7l.1,1l.1,-1.3l.1,2.9l.2,-2.4l.1,2.8l.1,1.3l.1,-3.8l.2,2.1l.1,-1.5l.1,-.1l.2,2.8l.1,-.6l.1,-.4l.1,1.9l.2,-1l.1,-.1l.1,-1.1l.1,1l.2,1.3l.1,.2l.1,-.5l.2,1l.1,.5l.1,-.3l.1,1.4l.2,-.3l.1,-.7l.1,2.2l.1,-1.8l.2,2.4l.1,0l.1,-2.3l.2,1.4l.1,.6l.1,-2.3l.1,2l.2,.4l.1,0l.1,.5l.1,-2.4l.2,-.8l.1,.8l.1,-.2l.2,.9l.1,2.3l.1,-3.8l.1,2.6l.2,.8l.1,-1.5l.1,-1.1l.2,-.2l.1,-1.1l.1,2.6l.1,-.6l.2,.6l.1,-2.3l.1,2.2l.1,.1l.2,.5l.1,-.5l.1,-2.8l.2,2.5l.1,5.5l.1,-4.5l.1,-1.2l.2,-1.9l.1,1l.1,1.3l.1,.1l.2,-.2l.1,.5l.1,-1.3l.2,.3l.1,-.4l.1,.6l.1,-.9l.2,-.4l.1,.5l.1,1.5l.1,-1.5l.2,-.6l.1,.4l.1,-.6l.2,-.5l.1,.5l.1,-.4l.1,.8l.2,-1.7l.1,-1.3l.1,-.1l.1,-.5l.2,.3l.1,-.9l.1,-.3l.2,-1l.1,-.6l.1,1.9l.1,.2l.2,-.8l.1,-1.6l.1,1.2l.1,-1.2l.2,.6l.1,-2.5l.1,6l.2,-3.4l.1,-2.6l.1,1.9l.1,-1.1l.2,.2l.1,-1l.1,-.6l.1,1.3l.2,-1.5l.1,-.7l.1,1.5l.2,-.3l.1,-2.7l.1,2l.1,-.9l.2,-.2l.1,1.6l.1,-2.5l.1,-.2l.2,2.3l.1,-1.8l.1,-.2l.2,.8l.1,-.3l.1,-1.7l.1,.6l.2,-1.3l.1,2.9l.1,-2.5l.1,1.3l.2,-2l.1,1.9l.1,-1.5l.2,2.2l.1,-3l.1,.4l.1,-.4l.2,-1.2l.1,2.8l.1,.1l.2,-2l.1,2l.1,.1l.1,-1.8l.2,-.3l.1,-.6l.1,.4l.1,-.4l.2,2.3l.1,-2.5l.1,1.2l.2,-.2l.1,-.5l.1,.2l.1,4l.2,-3.1l.1,-3.6l.1,3.6l.1,1l.2,-.5l.1,-.3l.1,1.1l.2,-1.6l.1,1l.1,-.8l.1,4l.2,-3l.1,-1.4l.1,2.6l.1,-1.3l.2,1.3l.1,-.2l.1,0l.2,-4l.1,4.1l.1,-.4l.1,-3.3l.2,3.9l.1,-1.2l.1,1.5l.1,.3l.2,-1.7l.1,1.1l.1,2.3l.2,.2l.1,-1l.1,1.9l.1,.8l.2,-1l.1,.5l.1,-.6l.1,1.2l.2,0l.1,.1l.1,2.2l.2,-.1l.1,.3l.1,-1.4l.1,1.6l.2,.8l.1,-.6l.1,.3l.1,.9l.2,1.2l.1,2.2l.1,-3.5l.2,.9l.1,1.5l.1,.3l.1,2.9l.2,-1.9l.1,-.6l.1,.1l.1,1.8l.2,1.8l.1,1.5l.1,-1.2l.2,-1.9l.1,1.9l.1,-1.3l.1,.3l.2,1.5l.1,-2.5l.1,3.1l.1,-.3l.2,.9l.1,-.3l.1,-.3l.2,4.5l.1,-3l.1,-1.3l.1,2.2l.2,-2.9l.1,.9l.1,-.4l.2,1.9l.1,-3.8l.1,3.4l.1,.1l.2,-.8l.1,1.4l.1,.6l.1,-.5l.2,5l.1,-5.3l.1,-1l.2,3.7l.1,-3.6l.1,2.1l.1,-.3l.2,-.6l.1,-.8l.1,-4.7l.1,4.4l.2,.4l.1,1.5l.1,-.5l.2,-.4l.1,-.3l.1,-1.7l.1,2.2l.2,.1l.1,-1.4l.1,-.3l.1,1.6l.2,-2l.1,-.2l.1,0l.2,.2l.1,-.5l.1,-1.5l.1,2.7l.2,-.7l.1,.2l.1,-4.3l.1,4.9l.2,-1.7l.1,4.6l.1,-5.5l.2,2.6l.1,-1.7l.1,-.1l.1,-.1l.2,-3l.1,2.6l.1,-.2l.1,-1.5l.2,-.7l.1,1.4l.1,-.1l.2,-1.5l.1,-1.4l.1,1.7l.1,-.1l.2,-2l.1,.8l.1,-1.3l.1,.4l.2,-.4l.1,.3l.1,1.3l.2,-1.9l.1,-1.5l.1,1.2l.1,-.2l.2,-1.2l.1,.9l.1,-.8l.1,-3.4l.2,4l.1,-1.2l.1,-.1l.2,-.2l.1,.6l.1,.8l.1,-.4l.2,-1l.1,1.4l.1,-2.2l.1,.1l.2,-.2l.1,1.6l.1,-.6l.2,-.1l.1,-1.9l.1,.3l.1,.8l.2,-.6l.1,-1.1l.1,.5l.2,1.5l.1,.3l.1,0l.1,-1.6l.2,1.7l.1,-.9l.1,-.1l.1,.2l.2,.5l.1,-1.7l.1,1.1l.2,-.7l.1,1.4l.1,.3l.1,-.5l.2,-.8l.1,-.3l.1,1.3l.1,-1l.2,1.7l.1,-.8l.1,-.9l.2,-.1l.1,-.9l.1,.7l.1,.2l.2,.8l.1,-.3l.1,.6l.1,-.2l.2,-1.2l.1,3.1l.1,-1l.2,-.7l.1,.3l.1,-1.1l.1,.2l.2,2l.1,-2.7l.1,2.5l.1,-1.7l.2,1.6l.1,.4l.1,-.7l.2,-4l.1,4.9l.1,.7l.1,.7l.2,-1.2l.1,1.7l.1,.2l.1,2.4l.2,-1.6l.1,-1.1l.1,4.3l.2,-2.1l.1,0l.1,.7l.1,5.2l.2,-2.2l.1,1.4l.1,-1.6l.1,-.1l.2,2.1l.1,-.1l.1,.7l.2,5.3l.1,-5.1l.1,.6l.1,-.3l.2,.2l.1,1.2l.1,-.8l.1,2.8l.2,-.9l.1,1.3l.1,-.6l.2,5.4l.1,-4l.1,1.6l.1,-1.6l.2,1.4l.1,1.1l.1,-1.1l.1,1.7l.2,.8l.1,.7l.1,-.4l.2,.2l.1,-.8l.1,1.7l.1,-1.5l.2,1.6l.1,2l.1,1.4l.2,-1.9l.1,0l.1,-.1l.1,-.4l.2,-.5l.1,6.6l.1,-4.3l.1,.3l.2,.5l.1,-1.5l.1,1.9l.2,.1l.1,-1.5l.1,5.3l.1,-4.3l.2,-.2l.1,1.3l.1,.8l.1,-1.4l.2,-.6l.1,1.3l.1,.8l.2,-.7l.1,.5l.1,-1.5l.1,.3l.2,1.4l.1,-1.6l.1,1.4l.1,-.3l.2,2.3l.1,-2.2l.1,.2l.2,1.2l.1,.2l.1,-2.6l.1,.7l.2,.1l.1,-.7l.1,-3.6l.1,5.7l.2,-.5l.1,-.6l.1,.5l.2,-.4l.1,1.5l.1,-1.9l.1,.7l.2,-1.2l.1,.8l.1,-2.9l.1,.8l.2,1.4l.1,.4l.1,-1.2l.2,-2.9l.1,2l.1,-.4l.1,1.6l.2,-3.1l.1,1.3l.1,1.4l.1,-3.3l.2,-.9l.1,1.2l.1,1.2l.2,-2.5l.1,.4l.1,-.5l.1,2l.2,-.5l.1,-3l.1,1.4l.1,-.7l.2,.3l.1,-1l.1,1.8l.2,-.1l.1,-2.5l.1,1.3l.1,.5l.2,-1.1l.1,-2.9l.1,1.6l.2,-.2l.1,5.8l.1,-5.7l.1,.4l.2,-2.1l.1,1.8l.1,-.5l.1,.2l.2,-1.9l.1,2.7l.1,-.7l.2,-1.2l.1,1.9l.1,-1.9l.1,-.7l.2,.7l.1,-1.5l.1,0l.1,1.4l.2,-.9l.1,2.1l.1,-2l.2,-.6l.1,-.3l.1,-.5l.1,1.8l.2,.3l.1,-.5l.1,.5l.1,-.5l.2,1.9l.1,-2.1l.1,.2l.2,1.6l.1,-1.3l.1,-.3l.1,0l.2,1.4l.1,1.2l.1,-1.5l.1,.9l.2,-1.8l.1,.3l.1,1l.2,1.2l.1,-2.1l.1,1.5l.1,-2.6l.2,3.6l.1,-1.9l.1,1.1l.1,-.6l.2,.1l.1,-.1l.1,.4l.2,0l.1,1.6l.1,-1.4l.1,.4l.2,2.4l.1,-.8l.1,.4l.1,1.7l.2,-1.5l.1,2l.1,-.1l.2,1.1l.1,-1.2l.1,1.3l.1,4.9l.2,-3.9l.1,.5l.1,.8l.1,4.4l.2,-3.3l.1,.5l.1,-.6l.2,2.1l.1,.2l.1,0l.1,.2l.2,-2l.1,3.7l.1,-.6l.1,-.1l.2,1.5l.1,1.2l.1,.3l.2,-.8l.1,.9l.1,.2l.1,1.4l.2,-.7l.1,2.1l.1,-.3l.2,1.9l.1,-1.6l.1,-2.9l.1,6.3l.2,-1.6l.1,1.1l.1,.5l.1,1.1l.2,.7l.1,-.2l.1,.2l.2,1.8l.1,-6.4l.1,7.4l.1,-2.8l.2,4.1l.1,-1.1l.1,1.1l.1,-.8l.2,.7l.1,.3l.1,1.1l.2,1.2l.1,-2.1l.1,-3.9l.1,5.9l.2,0l.1,-1.2l.1,0l.1,1.4l.2,-1.1l.1,-.8l.1,.7l.2,-.9l.1,1.6l.1,-.4l.1,-4.6l.2,5.5l.1,-1.6l.1,.2l.1,1.4l.2,-.9l.1,0l.1,-.4l.2,1l.1,-.2l.1,-1l.1,2l.2,-1.6l.1,-.9l.1,1.8l.1,-.5l.2,-.4l.1,-.7l.1,-.3l.2,.8l.1,.6l.1,-.9l.1,.9l.2,.5l.1,.2l.1,.2l.1,0l.2,0l.1,-.1l.1,-1l.2,-.3l.1,0l.1,.5l.1,.8l.2,-2l.1,.1l.1,.3l.1,-.8l.2,-.8l.1,.2l.1,1.3l.2,-1l.1,0l.1,-.7l.1,1.9l.2,-2.5l.1,-.3l.1,1.2l.1,-2.1l.2,.6l.1,-2l.1,1.9l.2,-1.9l.1,1.4l.1,-.4l.1,-1.1l.2,.6l.1,-1.6l.1,1.5l.2,-.9l.1,.8l.1,-2.4l.1,2l.2,-1.6l.1,-.7l.1,-.9l.1,-.4l.2,1.1l.1,-1.3l.1,.7l.2,-.5l.1,-.2l.1,-.8l.1,-.9l.2,1.7l.1,-1.3l.1,-1.4l.1,-.3l.2,2.6l.1,.6l.1,-1.2l.2,-.3l.1,-1.7l.1,-.7l.1,.3l.2,1.1l.1,2.2l.1,-1.4l.1,-1.3l.2,.7l.1,.5l.1,-.2l.2,-1.9l.1,-1l.1,-2.6l.1,2.5l.2,2.2l.1,-1.8l.1,-2.7l.1,5.4l.2,-2.3l.1,-.4l.1,1.8l.2,-.1l.1,-.5l.1,1l.1,-.3l.2,-.5l.1,.6l.1,-.6l.1,1.2l.2,.7l.1,.2l.1,-4.8l.2,-.9l.1,4.4l.1,-.1l.1,.7l.2,1.3l.1,-.5l.1,-1.5l.1,2.6l.2,-2.7l.1,1.3l.1,.2l.2,-.3l.1,3.5l.1,-2.5l.1,.7l.2,.1l.1,3.5l.1,-2.4l.1,.7l.2,2l.1,-1.2l.1,.8l.2,-1.2l.1,.6l.1,.3l.1,0l.2,.8l.1,.2l.1,1.9l.1,-1.9l.2,.7l.1,1.3l.1,-.1l.2,1l.1,.3l.1,.9l.1,0l.2,3.7l.1,-2.2l.1,-.5l.2,3l.1,-2.2l.1,3.2l.1,.5l.2,3.5l.1,3.3l.1,-5.2l.1,-.2l.2,3.9l.1,-1.6l.1,.9l.2,-5.1l.1,2.8l.1,2.7l.1,1.1l.2,-1.3l.1,2.7l.1,-.9l.1,0l.2,1.1l.1,-3l.1,3.2l.2,.7l.1,-1l.1,2.6l.1,1.6l.2,-.9l.1,3.6l.1,-1.9l.1,-1.5l.2,1.1l.1,.4l.1,.8l.2,-1.8l.1,3.1l.1,.2l.1,-1l.2,1.7l.1,-1.6l.1,2l.1,-3.6l.2,1.6l.1,1.9l.1,-1.6l.2,2.4l.1,-.9l.1,-.7l.1,-.2l.2,.9l.1,-4.9l.1,4l.1,2.1l.2,-1l.1,0l.1,.3l.2,-.6l.1,-1.4l.1,1.2l.1,-1.7l.2,2.2l.1,-.4l.1,-1.8l.1,1.7l.2,-3.9l.1,1.3l.1,2.2l.2,-2.7l.1,1.6l.1,.4l.1,.1l.2,-2.3l.1,.8l.1,.7l.1,1.5l.2,-2.2l.1,-2l.1,.2l.2,2.2l.1,-1.8l.1,.7l.1,-1.1l.2,1.7l.1,-1l.1,-2.1l.1,2l.2,.3l.1,-2.4l.1,.3l.2,.6l.1,-.4l.1,-.5l.1,-1.2l.2,1.2l.1,.6l.1,1l.2,-.6l.1,.3l.1,-1.4l.1,-.7l.2,.3l.1,-1.2l.1,1.3l.1,-.7l.2,-.2l.1,-1.5l.1,.6l.2,-1.6l.1,-.4l.1,1.5l.1,1l.2,-2.4l.1,.7l.1,-1l.1,-.9l.2,.2l.1,.4l.1,-2.7l.2,2.3l.1,-2.9l.1,1.9l.1,.1l.2,-2.2l.1,0l.1,-2.1l.1,1.6l.2,.8l.1,-.2l.1,-1.7l.2,.5l.1,.1l.1,-1.7l.1,4.4l.2,-3.4l.1,-.3l.1,1l.1,-3.1l.2,2l.1,-1.7l.1,-.4l.2,1l.1,-1l.1,-1.7l.1,2.1l.2,-.8l.1,.4l.1,-2.6l.1,-.3l.2,1.9l.1,-1.8l.1,.9l.2,1l.1,-3l.1,1.8l.1,-.1l.2,.3l.1,-.6l.1,.6l.1,-.8l.2,.8l.1,-.8l.1,2.3l.2,-1.7l.1,1.6l.1,-1.3l.1,.8l.2,-.2l.1,-.6l.1,1.3l.1,-.3l.2,1.7l.1,-.9l.1,1.1l.2,0l.1,-1.1l.1,1.1l.1,1.2l.2,-2.5l.1,4.6l.1,-3.2l.1,2.1l.2,.1l.1,1.3l.1,-1.5l.2,2.5l.1,-1.4l.1,.5l.1,.2l.2,1.1l.1,1.8l.1,-1l.2,.8l.1,0l.1,-.4l.1,2.1l.2,-2.3l.1,1.3l.1,.3l.1,0l.2,1.3l.1,2l.1,-1.7l.2,1.2l.1,.3l.1,-1.2l.1,.5l.2,2.3l.1,.2l.1,1.2l.1,-.6l.2,-.3l.1,.3l.1,.4l.2,1l.1,-.8l.1,1.4l.1,1.7l.2,-.9l.1,1l.1,.5l.1,2.7l.2,-1.9l.1,1l.1,-.2l.2,2.5l.1,-3l.1,1.7l.1,2.4l.2,-.5l.1,4.5l.1,-3.1l.1,-.4l.2,1.2l.1,-.6l.1,1l.2,-.5l.1,.2l.1,1.3l.1,0l.2,-2.9l.1,3.2l.1,-.5l.1,-.3l.2,2.1l.1,-1.5l.1,1.6l.2,-2.1l.1,1.6l.1,-.9l.1,.7l.2,-.1l.1,-1.5l.1,2.7l.1,-3.2l.2,-2.3l.1,1.9l.1,2.9l.2,-3.2l.1,.3l.1,.6l.1,-.2l.2,-2.5l.1,1.1l.1,1.4l.1,.5l.2,-1.8l.1,1l.1,-.8l.2,-1l.1,.5l.1,-.1l.1,-2.6l.2,1.4l.1,0l.1,.1l.1,-1.7l.2,2.1l.1,-2.5l.1,-.8l.2,.9l.1,-1.7l.1,2.4l.1,-1.9l.2,.6l.1,-.9l.1,.9l.2,-4.7l.1,3l.1,.2l.1,-.2l.2,-1.4l.1,2.1l.1,-2.6l.1,1l.2,-2.5l.1,2.4l.1,-.6l.2,-1.8l.1,1.2l.1,-.8l.1,-.1l.2,-.8l.1,.6l.1,-5.8l.1,3.9l.2,1.1l.1,-2.3l.1,-1.1l.2,2.6l.1,-.5l.1,-1.4l.1,-1.9l.2,0l.1,-.3l.1,.7l.1,.8l.2,.1l.1,-1.5l.1,-.8l.2,.4l.1,-.3l.1,-.4l.1,-1.5l.2,.8l.1,-1.2l.1,-.4l.1,.5l.2,-.2l.1,-1.1l.1,-1.5l.2,.8l.1,1.5l.1,-.6l.1,.6l.2,-3.1l.1,.6l.1,.3l.1,-1.6l.2,2.4l.1,-1.4l.1,-1.5l.2,4l.1,-2.1l.1,-.8l.1,-1l.2,-1.4l.1,2l.1,-.8l.1,1.5l.2,.6l.1,-2.3l.1,0l.2,.1l.1,-4l.1,4.9l.1,.4l.2,-2.4l.1,2.3l.1,-1.2l.1,.5l.2,-.2l.1,-.6l.1,.5l.2,-.2l.1,-.9l.1,1.6l.1,-1l.2,-.4l.1,-.3l.1,-.7l.2,-1.8l.1,1.5l.1,2l.1,0l.2,1.5l.1,-2.4l.1,1.7l.1,-1.4l.2,-1l.1,4l.1,-2.1l.2,.7l.1,.5l.1,-.8l.1,-.3l.2,.6l.1,.2l.1,1.3l.1,.4l.2,-2.9l.1,1.4l.1,1.6l.2,.1l.1,-1.3l.1,.8l.1,1.6l.2,-1.2l.1,.3l.1,.7l.1,-.7l.2,1.8l.1,-.1l.1,-.2l.2,-.2l.1,.6l.1,1.6l.1,-.2l.2,.4l.1,.6l.1,-1.2l.1,1.1l.2,2.5l.1,-1l.1,.7l.2,-.5l.1,.3l.1,-1l.1,2l.2,1.6l.1,0l.1,-.6l.1,-1.8l.2,3.5l.1,-1l.1,1.5l.2,.2l.1,.1l.1,.2l.1,.9l.2,1.2l.1,-1.8l.1,.9l.1,.6l.2,.4l.1,2.2l.1,-2.5l.2,1.5l.1,1.4l.1,-1.9l.1,-.5l.2,1.8l.1,-.1l.1,1.1l.1,-.9l.2,.3l.1,.1l.1,0l.2,.4l.1,-.9l.1,-1.4l.1,1l.2,-.6l.1,3l.1,-1.8l.1,-.3l.2,1.9l.1,-1l.1,-2l.2,-.3l.1,1.8l.1,-1.9l.1,.5l.2,0l.1,-.1l.1,-.3l.2,-1l.1,-1.3l.1,0l.1,2.4l.2,-2.2l.1,.3l.1,.5l.1,-3.6l.2,1.1l.1,1.2l.1,-2.8l.2,.9l.1,1.6l.1,2.3l.1,-4.2l.2,1.3l.1,-1.2l.1,1.3l.1,-2.3l.2,-.9l.1,.8l.1,-1.7l.2,.9l.1,-1.6l.1,-.9l.1,1.9l.2,-.4l.1,.4l.1,.2l.1,-2.7l.2,-1.5l.1,.2l.1,1.3l.2,1.2l.1,-3.3l.1,1.7l.1,-2.1l.2,-.8l.1,1.4l.1,-5.1l.1,3.5l.2,-.3l.1,-2.6l.1,1.5l.2,-.8l.1,.5l.1,-.4l.1,-.2l.2,-1.5l.1,-1.5l.1,3.8l.1,-2.7l.2,-4.2l.1,1.3l.1,1.6l.2,-1.7l.1,-.2l.1,1.1l.1,-2.9l.2,-2.2l.1,1.7l.1,.2l.1,-5.3l.2,5.4l.1,-2.4l.1,-.1l.2,-.8l.1,-.4l.1,-.3l.1,-1.2l.2,.4l.1,0l.1,-.3l.1,-1.2l.2,-.5l.1,1.5l.1,-1.5l.2,-.3l.1,.7l.1,-.2l.1,2.2l.2,-.7l.1,-2.8l.1,-1l.1,2.8l.2,.3l.1,0l.1,.2l.2,-.5l.1,-1.9l.1,2.5l.1,-1.3l.2,1.3l.1,-.4l.1,-.2l.2,.2l.1,-2.7l.1,1.5l.1,2.8l.2,-3.1l.1,.7l.1,-1.9l.1,1l.2,2.3l.1,-2.8l.1,1l.2,.2l.1,.5l.1,.7l.1,-1.7l.2,.7l.1,1.1l.1,-.5l.1,-.2l.2,0l.1,-.6l.1,.8l.2,.1l.1,-2.9l.1,2.8l.1,2.8l.2,-2l.1,.7l.1,.8l.1,.9l.2,.1l.1,1.2l.1,-.2l.2,1l.1,1.2l.1,-.7l.1,1l.2,-.6l.1,1.2l.1,.7l.1,-.9l.2,5.7l.1,-2.4l.1,-.2l.2,1l.1,-.5l.1,-.5l.1,1l.2,-3.5l.1,4l.1,-1.4l.1,2l.2,-.1l.1,.1l.1,.8l.2,-.2l.1,.5l.1,-2.9l.1,1.1l.2,1.6l.1,-1.2l.1,1.6l.1,-1.5l.2,1l.1,-1.7l.1,.9l.2,-1.5l.1,1.5l.1,-.3l.1,.7l.2,1.3l.1,-3.1l.1,3.1l.1,-2.3l.2,1l.1,-.3l.1,-.8l.2,-.3l.1,.7l.1,1l.1,-2.1l.2,1.5l.1,-1.7l.1,1.1l.1,.9l.2,-1.5l.1,2.3l.1,-1.3l.2,.1l.1,-1l.1,-.4l.1,2.5l.2,-.8l.1,-.6l.1,-1.7l.2,2l.1,1.3l.1,-1.6l.1,-.4l.2,2.2l.1,-3.3l.1,-.3l.1,.3l.2,1.2l.1,-1.6l.1,-1.6l.2,1.9l.1,-.1l.1,-.8l.1,-.4l.2,-2.3l.1,2.7l.1,-3l.1,0l.2,-.8l.1,.5l.1,.2l.2,-2.3l.1,1.8l.1,-1.1l.1,1l.2,-1.6l.1,-1.2l.1,.5l.1,.1l.2,.9l.1,-2.6l.1,.2l.2,.4l.1,-5.2l.1,3.8l.1,-1.7l.2,-.3l.1,.3l.1,-.6l.1,1.6l.2,-1l.1,-.4l.1,-2.4l.2,1l.1,-1.2l.1,.6l.1,1.4l.2,-3.6l.1,1.8l.1,-5.4l.1,4.8l.2,-1.5l.1,0l.1,.1l.2,-.2l.1,-1.5l.1,-5l.1,4.2l.2,-.4l.1,-.2l.1,-.8l.1,-.3l.2,-.4l.1,1.4l.1,-1.4l.2,-5l.1,3.8l.1,-2.7l.1,3.1l.2,-1.9l.1,2l.1,-2.1l.1,-.4l.2,.6l.1,.3l.1,-.1l.2,-1.9l.1,.1l.1,-.2l.1,-.6l.2,-.7l.1,-.5l.1,.3l.1,-2.1l.2,.7l.1,-.2l.1,.1l.2,1.4l.1,-3.5l.1,3.3l.1,-1.5l.2,-1.3l.1,.6l.1,.4l.2,-1l.1,-1.9l.1,2.6l.1,1.6l.2,-3.5l.1,1.6l.1,-.3l.1,-.7l.2,-.3l.1,-1l.1,1.9l.2,-1.8l.1,.1l.1,1.6l.1,-.3l.2,-.9l.1,1.6l.1,-.6l.1,1.2l.2,-.2l.1,.8l.1,.1l.2,-2.9l.1,.6l.1,2.5l.1,-2.9l.2,2.3l.1,-1.2l.1,-.8l.1,2.7l.2,-1.6l.1,1.4l.1,0l.2,.4l.1,-.3l.1,-1l.1,1.1l.2,-1.1l.1,2.4l.1,-.7l.1,1.4l.2,-.7l.1,.7l.1,-.7l.2,1.4l.1,-.4l.1,-.6l.1,2.2l.2,-3l.1,3.5l.1,-2.4l.1,.5l.2,-1.5l.1,7.3l.1,-5.9l.2,-.4l.1,.6l.1,.9l.1,-.5l.2,2.2l.1,-.6l.1,1.2l.1,-3.4l.2,1.7l.1,1.5l.1,0l.2,.4l.1,0l.1,-2.8l.1,2.1l.2,.4l.1,1.8l.1,-1.9l.1,-.8l.2,2.5l.1,-1.7l.1,1l.2,-.7l.1,-1.4l.1,1.1l.1,-.7l.2,1.7l.1,-.9l.1,2.6l.1,-1.4l.2,1.8l.1,-1.2l.1,-.9l.2,-.1l.1,1.1l.1,-4.5l.1,4.4l.2,-1l.1,.8l.1,.7l.2,5.3l.1,-4.4l.1,-.5l.1,-.7l.2,-1.6l.1,1.7l.1,-2.7l.1,2.1l.2,-1.5l.1,1.4l.1,.8l.2,-2.2l.1,.8l.1,-1.5l.1,1.3l.2,-1l.1,1l.1,-1.9l.1,1.2l.2,2.2l.1,-3.2l.1,.9l.2,-2.8l.1,-.2l.1,1.2l.1,.7l.2,.9l.1,-.9l.1,-.7l.1,-.6l.2,1.3l.1,-2.4l.1,.3l.2,-.3l.1,-.4l.1,-1l.1,1.1l.2,-.4l.1,-.2l.1,-1.4l.1,-.9l.2,-.6l.1,1.6l.1,-.7l.2,-2l.1,-.3l.1,1.8l.1,.2l.2,.5l.1,-1.7l.1,-.9l.1,-.6l.2,.6l.1,-.9l.1,.4l.2,-2.4l.1,.6l.1,-.3l.1,-.1l.2,-.2l.1,-1.6l.1,.9l.1,-1.1l.2,.8l.1,-2.2l.1,-.2l.2,2.3l.1,-1.9l.1,1.2l.1,-.4l.2,-1.9l.1,-1.2l.1,-.5l.1,1.2l.2,.2l.1,-.6l.1,-1.3l.2,.4l.1,1.1l.1,-3.1l.1,1.3l.2,-1.3l.1,1.2l.1,-.3l.1,-1.2l.2,.8l.1,-1.5l.1,0l.2,-2.1l.1,.1l.1,2l.1,-.6l.2,-.1l.1,.4l.1,.2l.2,-.4l.1,.4l.1,-2l.1,-.4l.2,.1l.1,-.3l.1,-1l.1,3.2l.2,-.3l.1,-.5l.1,-1.3l.2,-.4l.1,1.2l.1,-.6l.1,-.1l.2,-.2l.1,-.7l.1,1.2l.1,-.8l.2,-2.3l.1,2.3l.1,-.5l.2,.3l.1,-1.7l.1,-1.1l.1,1.8l.2,-2.5l.1,2.8l.1,-1.8l.1,.4l.2,1.4l.1,.9l.1,-1.7l.2,-1.1l.1,.6l.1,1.1l.1,-.9l.2,-.1l.1,.6l.1,-2.2l.1,3l.2,1.6l.1,2.3l.1,-1.9l.2,-3.1l.1,.6l.1,.1l.1,1.7l.2,0l.1,-.5l.1,-.4l.1,2.3l.2,-.2l.1,-1.6l.1,1.6l.2,-.9l.1,1.7l.1,-.5l.1,2l.2,-.3l.1,2.1l.1,-2.3l.1,.7l.2,.8l.1,-1.7l.1,1.6l.2,5.2l.1,-4l.1,.4l.1,-.2l.2,1l.1,-.7l.1,1.9l.1,.1l.2,-2.5l.1,1.5l.1,-.4l.2,-1.2l.1,.1l.1,1.2l.1,-.6l.2,1.1l.1,-.6l.1,1.3l.2,-.1l.1,-1.2l.1,.5l.1,.9l.2,-.3l.1,0l.1,1.3l.1,-2.4l.2,2.5l.1,-.7l.1,-.4l.2,-.1l.1,-.6l.1,-.3l.1,.3l.2,.2l.1,-.3l.1,-.8l.1,1.8l.2,-1.5l.1,.9l.1,.8l.2,.4l.1,-.2l.1,.1l.1,-.8l.2,2.4l.1,-1.7l.1,0l.1,-.4l.2,.6l.1,-2.2l.1,-.3l.2,1.7l.1,-1.9l.1,1.3l.1,-1.3l.2,1.5l.1,-2.4l.1,3.7l.1,-2l.2,3.6l.1,-1.8l.1,-2.8l.2,-2.2l.1,2.5l.1,-.9l.1,0l.2,-1.2l.1,2.3l.1,-2.1l.1,.9l.2,-.7l.1,-.5l.1,-.6l.2,2.4l.1,-1.2l.1,-1.7l.1,-.1l.2,-.7l.1,.3l.1,1l.1,-.4l.2,-1.9l.1,.7l.1,-1.7l.2,1.9l.1,-5.8l.1,4.3l.1,-1.3l.2,1.1l.1,2l.1,-3.5l.1,-.5l.2,.9l.1,-.6l.1,.3l.2,-1.1l.1,-.9l.1,-.2l.1,1l.2,2.7l.1,-3.7l.1,-1.1l.1,-.7l.2,1l.1,.6l.1,-1.4l.2,-3.2l.1,2l.1,-.1l.1,.7l.2,-1.9l.1,.1l.1,0l.2,.3l.1,-.8l.1,-.4l.1,-.2l.2,1l.1,.1l.1,-1.4l.1,-1.8l.2,.3l.1,-.4l.1,2.1l.2,-3.5l.1,1.1l.1,.2l.1,-.7l.2,4.7l.1,-3.7l.1,-1.1l.1,.1l.2,-.5l.1,1.7l.1,.2l.2,-2.3l.1,2.4l.1,-2.3l.1,-.8l.2,1.3l.1,-1l.1,.4l.1,-.8l.2,2.4l.1,-3.2l.1,.7l.2,-1.1l.1,2l.1,.3l.1,-3l.2,2.6l.1,-1.5l.1,.6l.1,-.1l.2,-1.2l.1,1.2l.1,.8l.2,-2.1l.1,1.2l.1,-3.2l.1,3.1l.2,-.6l.1,.7l.1,-4.1l.1,3.4l.2,1.6l.1,-1.5l.1,-1.5l.2,3.2l.1,-1.1l.1,1.2l.1,-1.1l.2,0l.1,-1.2l.1,6l.1,-2.8l.2,-1l.1,.3l.1,.3l.2,.4l.1,.2l.1,.5l.1,-1.9l.2,2.2l.1,.8l.1,.3l.1,1.6l.2,-1.7l.1,.8l.1,-.1l.2,-2.5l.1,.8l.1,3.5l.1,-1l.2,-1.2l.1,-.8l.1,-.2l.1,.6l.2,2.2l.1,.3l.1,-.4l.2,.7l.1,-.6l.1,.1l.1,1.7l.2,.2l.1,-1.9l.1,-.1l.2,2.9l.1,-1l.1,.9l.1,-.4l.2,1.2l.1,-.4l.1,2.2l.1,0l.2,.4l.1,0l.1,-2.2l.2,.3l.1,.3l.1,1.8l.1,.1l.2,.4l.1,2.6l.1,-2.7l.1,-.6l.2,-1.9l.1,1.5l.1,1.2l.2,-2.2l.1,.1l.1,2.1l.1,-.5l.2,-1.6l.1,1.4l.1,1.2l.1,-1.4l.2,.6l.1,-.8l.1,1.6l.2,-1.2l.1,.7l.1,-.4l.1,-1.6l.2,1.7l.1,.2l.1,.5l.1,-.3l.2,-1.8l.1,.8l.1,.5l.2,-2.4l.1,3.2l.1,-.7l.1,.6l.2,-.4l.1,-.8l.1,1.7l.1,-1.4l.2,-.6l.1,-.4l.1,1.8l.2,.5l.1,-.4l.1,-.2l.1,-.2l.2,-1.5l.1,-.6l.1,.6l.1,.3l.2,1.5l.1,0l.1,-3.6l.2,1.1l.1,1.4l.1,-1.6l.1,.4l.2,.2l.1,.1l.1,-.5l.1,2.9l.2,-3.5l.1,-2.5l.1,1.4l.2,0l.1,.4l.1,-1l.1,-.4l.2,.3l.1,-1l.1,-.4l.1,-.1l.2,-2l.1,.8l.1,-1.4l.2,2.8l.1,-3l.1,1.2l.1,-.8l.2,.8l.1,-.8l.1,-.6l.2,1.2l.1,-1.1l.1,-3l.1,2.4l.2,-.3l.1,1.2l.1,-3.9l.1,2.3l.2,.4l.1,-1.7l.1,1l.2,.7l.1,-2l.1,.4l.1,-.5l.2,.2l.1,-.2l.1,-.5l.1,.8l.2,-1.2l.1,.1l.1,1.5l.2,-2.5l.1,.1l.1,.2l.1,.5l.2,-2.1l.1,1.5l.1,-1.4l.1,0l.2,.5l.1,.1l.1,-1.8l.2,2.4l.1,-.4l.1,-1.3l.1,1.4l.2,2.3l.1,-4.8l.1,1.6l.1,.5l.2,-2.3l.1,2.7l.1,-.5l.2,-.2l.1,-.5l.1,-.9l.1,.7l.2,1.4l.1,-.3l.1,-1.6l.1,2.5l.2,-2.3l.1,.4l.1,1.2l.2,-.9l.1,3.8l.1,-4.1l.1,1.1l.2,-1.4l.1,.4l.1,-.2l.1,2l.2,-.6l.1,-4.7l.1,4.5l.2,1.1l.1,-1.3l.1,-.9l.1,2l.2,.7l.1,-1.5l.1,1.1l.1,.6l.2,.3l.1,.6l.1,.7l.2,-.9l.1,.6l.1,-1.3l.1,.2l.2,2.3l.1,-1.3l.1,.2l.1,.5l.2,1.1l.1,-.9l.1,1.1l.2,-2.6l.1,4.3l.1,-.9l.1,1.4l.2,.8l.1,-1l.1,.1l.2,1.1l.1,1l.1,0l.1,.3l.2,.1l.1,.4l.1,.4l.1,-.5l.2,2.2l.1,.2l.1,.1l.2,-.2l.1,0l.1,1.5l.1,-.6l.2,1.7l.1,-.3l.1,-.2l.1,1.2l.2,-.3l.1,.5l.1,-2l.2,1.5l.1,1.3l.1,.4l.1,2.1l.2,-2.6l.1,2.2l.1,-.5l.1,.4l.2,.7l.1,.5l.1,-.4l.2,-.8l.1,0l.1,2.1l.1,-1l.2,1.6l.1,-2l.1,-1.7l.1,3.5l.2,-1.8l.1,1l.1,0l.2,-.3l.1,.1l.1,-.5l.1,0l.2,-2.2l.1,2.6l.1,0l.1,1.5l.2,.2l.1,-2.3l.1,1.7l.2,-1.5l.1,1.5l.1,-.4l.1,-.1l.2,-.2l.1,0l.1,1.1l.1,-.7l.2,.1l.1,-6.1l.1,4.8l.2,.5l.1,-1.3l.1,.2l.1,-2.4l.2,2.1l.1,.9l.1,.4l.1,-1.4l.2,-1.3l.1,.4l.1,1.1l.2,-1.7l.1,.5l.1,-1l.1,.1l.2,.3l.1,1.1l.1,-1l.1,-.7l.2,-.6l.1,0l.1,.2l.2,-.3l.1,-1l.1,-1l.1,1l.2,-.3l.1,-1l.1,3l.2,-2.6l.1,-1.4l.1,.9l.1,.3l.2,-1.1l.1,-.1l.1,-.6l.1,1.5l.2,-1.4l.1,-2.9l.1,.7l.2,1.2l.1,-.3l.1,.7l.1,-.2l.2,.7l.1,-3.2l.1,1.6l.1,-.8l.2,.7l.1,.5l.1,3.4l.2,-3.7l.1,-.7l.1,1.6l.1,-1.2l.2,-.6l.1,-.5l.1,.4l.1,.3l.2,-2.7l.1,2l.1,-.4l.2,-.9l.1,.1l.1,-.1l.1,.5l.2,.6l.1,-.3l.1,.7l.1,-.5l.2,1.4l.1,-1.4l.1,-1.7l.2,.6l.1,-.5l.1,1.3l.1,0l.2,1.7l.1,-3.6l.1,1.7l.1,.1l.2,-.2l.1,1.2l.1,-.8l.2,-1.9l.1,2.2l.1,-1.9l.1,1.8l.2,-5.9l.1,5.8l.1,-.6l.1,.4l.2,-1.6l.1,1.2l.1,.7l.2,-.4l.1,-2.7l.1,3.3l.1,.2l.2,.4l.1,-1.6l.1,1.2l.1,.4l.2,-1.1l.1,1.7l.1,.1l.2,4.1l.1,-4l.1,-.8l.1,.4l.2,.3l.1,-.6l.1,2l.1,.9l.2,-.4l.1,2.2l.1,-1.2l.2,0l.1,.6l.1,.7l.1,1.8l.2,-1.6l.1,2.1l.1,-.5l.2,-1l.1,2.4l.1,.6l.1,.7l.2,0l.1,.7l.1,1.5l.1,-1.3l.2,-1.3l.1,3.1l.1,-1.3l.2,1.2l.1,.3l.1,1.2l.1,1.2l.2,.3l.1,.8l.1,-.9l.1,.4l.2,.6l.1,.9l.1,-.6l.2,.2l.1,2.6l.1,-.6l.1,.6l.2,.3l.1,.4l.1,.4l.1,.2l.2,.4l.1,-.4l.1,.2l.2,-1l.1,3.3l.1,-1.7l.1,1.3l.2,.5l.1,-1.3l.1,.3l.1,1.5l.2,-.4l.1,.8l.1,-.5l.2,1.1l.1,1l.1,1.3l.1,-3.2l.2,1.6l.1,.2l.1,.4l.1,.4l.2,.7l.1,-.9l.1,5.1l.2,-2.1l.1,-1.6l.1,.7l.1,-1.8l.2,1.7l.1,-1.4l.1,-4.4l.1,4.9l.2,-.9l.1,.8l.1,2l.2,-6.7l.1,6.8l.1,-.3l.1,-2.2l.2,.2l.1,.8l.1,.2l.1,0l.2,-1.3l.1,1.5l.1,-2l.2,2.1l.1,-1.3l.1,4.3l.1,-4.5l.2,1l.1,.6l.1,.3l.2,-2.4l.1,.9l.1,-.6l.1,2.2l.2,-4l.1,2.8l.1,-2.8l.1,1l.2,.2l.1,0l.1,-2l.2,-.9l.1,.3l.1,.5l.1,-1l.2,.8l.1,-1.1l.1,.2l.1,-.5l.2,-.9l.1,1.2l.1,-1.4l.2,-2.1l.1,2.9l.1,.5l.1,-1.4l.2,-.9l.1,1.3l.1,0l.1,-1.3l.2,4.6l.1,-6.1l.1,1.4l.2,-2.2l.1,2.4l.1,-1.4l.1,1.2l.2,-.9l.1,.6l.1,-.9l.1,-1.6l.2,.5l.1,0l.1,.3l.2,.9l.1,-2.3l.1,.8l.1,1.1l.2,-1l.1,-1.1l.1,1.2l.1,1.1l.2,-.9l.1,-1.6l.1,2.8l.2,-3.4l.1,1.8l.1,-.5l.1,3l.2,-2.4l.1,-.2l.1,-1.2l.1,1.2l.2,-.1l.1,-.2l.1,.8l.2,.5l.1,-2l.1,.7l.1,-.8l.2,1.9l.1,-1l.1,-1.5l.1,2.6l.2,-1.2l.1,-.4l.1,0l.2,1.2l.1,-.6l.1,.5l.1,.2l.2,-.7l.1,-.7l.1,-.6l.1,2l.2,-2.3l.1,3.5l.1,-1.1l.2,1.3l.1,-.7l.1,4.2l.1,-5.5l.2,1.8l.1,1.2l.1,.3l.2,1.3l.1,-1.3l.1,1.4l.1,-1.9l.2,1.8l.1,.3l.1,-.5l.1,-1l.2,3.7l.1,1.8l.1,-1.8l.2,-.4l.1,.8l.1,-.8l.1,3.5l.2,-.6l.1,.2l.1,1.8l.1,-.3l.2,-.9l.1,-3.6l.1,5.5l.2,-1.3l.1,3l.1,.8l.1,-2.3l.2,1.1l.1,2l.1,-1.7l.1,3.6l.2,-2.3l.1,1.5l.1,-.1l.2,.5l.1,1.1l.1,.1l.1,-.2l.2,.1l.1,-.5l.1,2.8l.1,-1.1l.2,1.1l.1,1.8l.1,-1.2l.2,1.6l.1,2.1l.1,-.8l.1,1l.2,1.6l.1,-.1l.1,-.6l.1,.9l.2,1.3l.1,.7l.1,-1.2l.2,1.2l.1,.7l.1,.7l.1,.3l.2,.4l.1,.2l.1,-1.1l.1,.4l.2,.6l.1,-.6l.1,1l.2,-1.8l.1,3.1l.1,-1.3l.1,-1.7l.2,2.4l.1,-.4l.1,-.6l.1,1.6l.2,.5l.1,-2.1l.1,-.7l.2,.8l.1,-1.5l.1,1.6l.1,.3l.2,.5l.1,-.8l.1,.4l.1,.1l.2,-.7l.1,1.7l.1,-.6l.2,-.7l.1,1.2l.1,-1.3l.1,.2l.2,0l.1,-.8l.1,-.3l.2,.3l.1,.6l.1,.5l.1,-1.4l.2,1.4l.1,-.3l.1,-.4l.1,0l.2,-.4l.1,-.7l.1,-.3l.2,.5l.1,1.2l.1,-2l.1,1l.2,.6l.1,-.8l.1,0l.1,.2l.2,-.5l.1,-1l.1,0l.2,-.3l.1,-.5l.1,-1.3l.1,.1l.2,.3l.1,-1.2l.1,3.2l.1,-1.3l.2,-.9l.1,-1.1l.1,.4l.2,-.5l.1,-.7l.1,.2l.1,-1.1l.2,.6l.1,-.1l.1,1.5l.1,-2.3l.2,-.4l.1,.4l.1,-1.5l.2,0l.1,-.7l.1,1.3l.1,-2.9l.2,2.3l.1,-2.4l.1,2l.1,-1.3l.2,1.2l.1,-.7l.1,-5.6l.2,4.1l.1,.2l.1,-.3l.1,-.7l.2,.6l.1,-1.9l.1,2.4l.1,-.6l.2,1.3l.1,-.7l.1,-.3l.2,-1l.1,.2l.1,-1l.1,1l.2,-.2l.1,-1l.1,2.4l.1,-.9l.2,-.4l.1,-1.5l.1,2.5l.2,-.9l.1,-2.4l.1,.9l.1,4.6l.2,-6.2l.1,3.4l.1,-.7l.1,.9l.2,-1.8l.1,1.4l.1,-.9l.2,1.6l.1,.5l.1,-1.6l.1,1.3l.2,.4l.1,.7l.1,-1.7l.2,1l.1,-1.2l.1,1.4l.1,-2.3l.2,4.7l.1,-2.8l.1,-.1l.1,1.2l.2,.9l.1,-2.6l.1,4.1l.2,-2.6l.1,.8l.1,-.4l.1,1.7l.2,.2l.1,-.1l.1,.8l.1,.6l.2,-.8l.1,2l.1,-.1l.2,.3l.1,-.2l.1,.8l.1,-1.5l.2,1.6l.1,-1l.1,2.6l.1,-.4l.2,-.7l.1,3.1l.1,-.3l.2,.6l.1,-.2l.1,0l.1,1.8l.2,-.3l.1,3.6l.1,-2.2l.1,.5l.2,1l.1,-.1l.1,4.9l.2,-2.3l.1,.4l.1,.1l.1,-.2l.2,2.2l.1,-.1l.1,1.3l.1,-.8l.2,.7l.1,1l.1,.3l.2,-.2l.1,1.4l.1,-1l.1,.5l.2,1.6l.1,1l.1,-.5l.1,5.5l.2,-4.3l.1,.5l.1,3.5l.2,-5.1l.1,3.5l.1,.3l.1,-.1l.2,-.7l.1,-1.1l.1,2.4l.1,-1.1l.2,.8l.1,-.9l.1,1.4l.2,.4l.1,.4l.1,-.7l.1,0l.2,1.2l.1,-.1l.1,-.6l.1,1.2l.2,.1l.1,-.5l.1,-1.2l.2,1.7l.1,-.3l.1,.8l.1,-.5l.2,-.6l.1,.2l.1,-.4l.2,1.6l.1,-2.9l.1,1.4l.1,.1l.2,-1.7l.1,.4l.1,.7l.1,-1.1l.2,.3l.1,-.5l.1,.6l.2,0l.1,.3l.1,-1.6l.1,-3.2l.2,4.2l.1,-1l.1,-.2l.1,-.4l.2,.6l.1,2.1l.1,-2.5l.2,-.2l.1,5.4l.1,-5.2l.1,-.3l.2,.8l.1,-2.1l.1,.5l.1,-.2l.2,-1.7l.1,-.3l.1,1.6l.2,-.3l.1,.5l.1,4.3l.1,-6.4l.2,0l.1,.2l.1,-.5l.1,1l.2,-3.3l.1,.2l.1,1.3l.2,.8l.1,0l.1,-1.8l.1,1.3l.2,-.8l.1,.8l.1,1l.1,-6.3l.2,2.9l.1,.5l.1,-.4l.2,-1.4l.1,1.5l.1,3.3l.1,-4.2l.2,.6l.1,-2l.1,0l.1,-2.4l.2,1.4l.1,.5l.1,-.5l.2,-.2l.1,3l.1,-3.9l.1,-1.8l.2,1.7l.1,1.2l.1,-.8l.1,-.1l.2,-1.9l.1,.8l.1,-2.1l.2,-.6l.1,.7l.1,.2l.1,-1.5l.2,1.1l.1,-1.8l.1,1.7l.1,-1.2l.2,1.3l.1,-.4l.1,-2.5l.2,-.6l.1,0l.1,1.6l.1,-1.4l.2,1l.1,-.6l.1,1.1l.2,-1.7l.1,4.1l.1,-4.4l.1,1l.2,-1.7l.1,1.4l.1,.4l.1,1.3l.2,-.5l.1,-1.2l.1,2.3l.2,-1.6l.1,2.5l.1,-3.5l.1,1.6l.2,-.9l.1,.2l.1,.5l.1,1.2l.2,-1.5l.1,2.5l.1,.8l.2,-5.9l.1,5l.1,3.2l.1,-1.1l.2,4.2l.1,-2.9l.1,-.4l.1,1.4l.2,-.8l.1,-.3l.1,.8l.2,2.7l.1,-2l.1,-1.2l.1,2.8l.2,-2l.1,1.7l.1,0l.1,-.8l.2,1l.1,.9l.1,.7l.2,.6l.1,3.1l.1,-2.5l.1,2.1l.2,-1.9l.1,-.2l.1,1.6l.1,.5l.2,.8l.1,.6l.1,-1.2l.2,1.7l.1,0l.1,-.7l.1,2.1l.2,1.2l.1,.9l.1,.4l.1,-.7l.2,.6l.1,-1.8l.1,.2l.2,2.8l.1,2l.1,-.8l.1,-.8l.2,.5l.1,2.1l.1,0l.1,.8l.2,-.5l.1,1.4l.1,-.6l.2,0l.1,-.4l.1,1l.1,.2l.2,1l.1,1.9l.1,-.7l.1,-1l.2,.5l.1,7.6l.1,-5.5l.2,.3l.1,-.7l.1,-.5l.1,1.1l.2,.2l.1,-.7l.1,.8l.2,-1.9l.1,1.5l.1,-.6l.1,.8l.2,1l.1,-4.4l.1,3.3l.1,-.7l.2,-1.1l.1,1.1l.1,-2.1l.2,.6l.1,-.5l.1,-.3l.1,1.8l.2,2l.1,-.3l.1,-2.7l.1,-1.8l.2,1.5l.1,.8l.1,1.5l.2,-5.2l.1,2.2l.1,-2.7l.1,.4l.2,.7l.1,5.5l.1,-6.3l.1,-.3l.2,-1l.1,.5l.1,-.6l.2,-.3l.1,-.2l.1,2l.1,3.5l.2,-7.1l.1,.7l.1,-2.1l.1,.1l.2,.4l.1,-.9l.1,-1.2l.2,1.1l.1,-.1l.1,-.8l.1,.9l.2,.3l.1,-2.5l.1,-.2l.1,.3l.2,.2l.1,-1.1l.1,2.4l.2,-3.1l.1,-2.4l.1,.8l.1,2.6l.2,0l.1,-1l.1,-1l.1,-1.5l.2,3.3l.1,-4l.1,.6l.2,.1l.1,-.8l.1,.2l.1,-.8l.2,.8l.1,-.9l.1,-.6l.1,-.6l.2,.5l.1,-3.2l.1,1.5l.2,4.6l.1,-6.5l.1,.6l.1,2.9l.2,-1.2l.1,-2.1l.1,-.3l.2,.5l.1,1.8l.1,-3.5l.1,2.2l.2,-1.7l.1,-2l.1,.9l.1,-.1l.2,.7l.1,-1.1l.1,-.3l.2,0l.1,-5.4l.1,6.1l.1,0l.2,-2.5l.1,1.6l.1,2.2l.1,-1.1l.2,-.7l.1,-.7l.1,.4l.2,-.3l.1,.8l.1,-1.6l.1,.2l.2,.2l.1,-.4l.1,.4l.1,-.3l.2,.5l.1,-.7l.1,1.2l.2,-1.1l.1,2l.1,-2.4l.1,2l.2,-1.5l.1,-.1l.1,-.1l.1,-.3l.2,.8l.1,1.2l.1,-2.7l.2,.8l.1,0l.1,-.4l.1,2.6l.2,.4l.1,.9l.1,-2l.1,.4l.2,-.7l.1,1.5l.1,-1l.2,.7l.1,.2l.1,-1l.1,.8l.2,2l.1,.6l.1,-1.5l.1,1.5l.2,-.1l.1,-1.8l.1,1.6l.2,.3l.1,-.3l.1,0l.1,.9l.2,.3l.1,-.8l.1,1.8l.1,-1.4l.2,1.8l.1,2.9l.1,-2.3l.2,-.2l.1,.6l.1,1.6l.1,-.7l.2,1.2l.1,.2l.1,.8l.1,-.1l.2,0l.1,1.1l.1,-.3l.2,.8l.1,-.7l.1,1.2l.1,1.4l.2,-2.2l.1,.2l.1,-.3l.2,2.7l.1,4.4l.1,-5.8l.1,2l.2,1.5l.1,-1.5l.1,1.1l.1,1.8l.2,.3l.1,.2l.1,-1.8l.2,3.1l.1,-1.9l.1,2.7l.1,-1.4l.2,3.3l.1,-4.4l.1,1.1l.1,.2l.2,-.3l.1,-.8l.1,.8l.2,1l.1,-1.8l.1,.8l.1,.2l.2,-.2l.1,-1.2l.1,.6l.1,.6l.2,-1.7l.1,.5l.1,-.3l.2,2.6l.1,-3.5l.1,.5l.1,-1.4l.2,1.4l.1,-.4l.1,1.4l.1,-.9l.2,1.9l.1,-2.9l.1,-1.5l.2,.7l.1,-.7l.1,-1.2l.1,.5l.2,-.3l.1,-1.7l.1,.5l.1,-.7l.2,.5l.1,-1.1l.1,1.2l.2,-1.4l.1,-4.2l.1,6.5l.1,-3.1l.2,.6l.1,-.7l.1,-1.6l.1,.4l.2,4.6l.1,-4.3l.1,-.4l.2,1.1l.1,-1.8l.1,0l.1,.2l.2,-2.4l.1,-.9l.1,1.2l.1,4.3l.2,-3.8l.1,-2.8l.1,1l.2,1.2l.1,-3.2l.1,.3l.1,.3l.2,-.5l.1,-1.4l.1,1l.1,-1.8l.2,1.3l.1,-1.8l.1,-2.2l.2,.6l.1,-.9l.1,2.1l.1,-2.1l.2,-1l.1,-.2l.1,1.1l.2,-.9l.1,-1.1l.1,-.4l.1,-.4l.2,-.5l.1,.8l.1,-1.7l.1,-.7l.2,-1.3l.1,.1l.1,-1.1l.2,.4l.1,-1.7l.1,1l.1,-.9l.2,.8l.1,-.3l.1,-1.5l.1,-.4l.2,-.4l.1,1.9l.1,-1.2l.2,-2.5l.1,2.3l.1,-.9l.1,1l.2,-1.7l.1,.5l.1,1.2l.1,.9l.2,-2l.1,-.3l.1,1.6l.2,-2l.1,2.8l.1,-1.6l.1,1l.2,.3l.1,-1.7l.1,.4l.1,1.6l.2,-1.5l.1,1.3l.1,-.5l.2,0l.1,-.7l.1,.4l.1,.5l.2,-1.7l.1,2.9l.1,-2.2l.1,-.5l.2,.5l.1,.4l.1,-.3l.2,1.7l.1,-1.7l.1,2.3l.1,-1.7l.2,-.4l.1,2.5l.1,-1.4l.1,4.2l.2,-.3l.1,-1.5l.1,-1l.2,-.3l.1,.5l.1,-.2l.1,2.1l.2,-.3l.1,2.1l.1,4.2l.1,-2.8l.2,-.3l.1,.3l.1,1.3l.2,-.2l.1,-.1l.1,.8l.1,-1.1l.2,.1l.1,2.8l.1,.8l.1,-1.6l.2,-.5l.1,2.9l.1,-2.2l.2,-1.9l.1,2.3l.1,2.6l.1,-1.5l.2,-.1l.1,-.5l.1,-.1l.2,.6l.1,1.1l.1,-.8l.1,-.3l.2,1.3l.1,-2.3l.1,2.4l.1,-.6l.2,.7l.1,-.7l.1,0l.2,-.1l.1,1l.1,.8l.1,-.8l.2,-1.5l.1,0l.1,.7l.1,.2l.2,-2.1l.1,.9l.1,.7l.2,1.8l.1,-1.4" fill="none" stroke="#ff8000" stroke-width="1.6" stroke-linejoin="round"/>
<path clip-path="url(#ca)" d="M120.6,202.5l1,.2l1,-1.6l1.1,-3.4l1,-5.1l1,-6.4l1,-7.6l1,-8.5l1.1,-9l1,-9l1,-8.8l1,-8.2l1,-7.2l1,-6l1.1,-4.4l1,-2.8l1,-.9l1,.8l1,2.2l1.1,3.4l1,4.2l1,4.5l1,4.2l1,3.5l1.1,2.4l1,1l1,-.5l1,-2l1,-3.3l1,-4.5l1.1,-5.6l1,-6.4l1,-7l1,-7.3l1,-7.5l1.1,-7.2l1,-6.7l1,-6l1,-5.1l1,-3.9l1.1,-2.6l1,-1.3l1,.2l1,1.7l1,3l1.1,4l1,4.4l1,4.3l1,3.7l1,2.8l1,1.3l1.1,-.1l1,-1.4l1,-2.6l1,-3.6l1,-4.6l1.1,-5.2l1,-5.9l1,-6l1,-6.1l1,-5.9l1.1,-5.5l1,-4.7l1,-3.9l1,-2.8l1,-1.7l1.1,-.5l1,1.1l1,2.8l1,4.1l1,5.1l1,5.7l1.1,5.6l1,5l1,4l1,2.5l1,.9l1.1,-.6l1,-1.7l1,-2.7l1,-3.6l1,-4.3l1.1,-4.7l1,-5.1l1,-5l1,-4.7l1,-4.2l1,-3.5l1.1,-2.6l1,-1.6l1,-.4l1,1.2l1,2.9l1.1,4.5l1,5.8l1,6.8l1,7.2l1,7.3l1.1,6.8l1,5.9l1,4.7l1,3.2l1,1.3l1.1,-.3l1,-1.6l1,-2.7l1,-3.7l1,-4.4l1,-4.8l1.1,-4.7l1,-4.4l1,-3.7l1,-2.7l1,-1.6l1.1,-.3l1,1.5l1,3.6l1,5.5l1,7l1.1,8.3l1,9l1,9.4l1,9.3l1,8.7l1.1,7.7l1,6.2l1,4.6l1,2.6l1,.6l1,-1.1l1.1,-2.3l1,-3.5l1,-4.2l1,-4.6l1,-4.6l1.1,-4.1l1,-3.3l1,-2.2l1,-.9l1,.9l1.1,3.2l1,5.4l1,7.3l1,8.8l1,9.9l1,10.5l1.1,10.6l1,10.2l1,9.3l1,7.9l1,6.1l1.1,4.1l1,1.7l1,-.3l1,-1.5l1,-2.6l1.1,-3.6l1,-4.3l1,-4.6l1,-4.7l1,-4.5l1.1,-3.8l1,-3l1,-2l1,-.8l1,.9l1,3.3l1.1,5.4l1,7.4l1,8.8l1,9.8l1,10.2l1.1,10.2l1,9.5l1,8.3l1,6.6l1,4.7l1.1,2.4l1,.1l1,-1.5l1,-2.9l1,-4.2l1.1,-5.1l1,-5.7l1,-5.9l1,-5.8l1,-5.3l1,-4.4l1.1,-3.3l1,-1.9l1,-.3l1,1.7l1,3.8l1.1,5.8l1,7.3l1,8.4l1,8.8l1,8.8l1.1,8.1l1,7l1,5.3l1,3.4l1,1.1l1,-.9l1.1,-2.7l1,-4.4l1,-5.8l1,-6.8l1,-7.6l1.1,-7.9l1,-7.7l1,-7.2l1,-6.2l1,-4.9l1.1,-3.4l1,-1.6l1,.3l1,2.2l1,4.1l1.1,5.5l1,6.5l1,7.1l1,7l1,6.5l1,5.3l1.1,3.9l1,1.9l1,0l1,-2l1,-3.9l1.1,-5.6l1,-7l1,-8.2l1,-8.8l1,-9.2l1.1,-9l1,-8.3l1,-7.4l1,-6l1,-4.3l1.1,-2.5l1,-.5l1,1.3l1,2.9l1,4.3l1,5.3l1.1,5.6l1,5.4l1,4.7l1,3.5l1,2l1.1,.2l1,-1.6l1,-3.4l1,-5.1l1,-6.4l1.1,-7.6l1,-8.5l1,-9l1,-9l1,-8.8l1,-8.2l1.1,-7.2l1,-6l1,-4.4l1,-2.8l1,-.9l1.1,.8l1,2.2l1,3.4l1,4.2l1,4.5l1.1,4.2l1,3.5l1,2.4l1,1l1,-.5l1.1,-2l1,-3.3l1,-4.5l1,-5.6l1,-6.4l1,-7l1.1,-7.3l1,-7.5l1,-7.2l1,-6.7l1,-6l1.1,-5.1l1,-3.9l1,-2.6l1,-1.3l1,.2l1.1,1.7l1,3l1,4l1,4.4l1,4.3l1.1,3.7l1,2.8l1,1.3l1,-.1l1,-1.4l1,-2.6l1.1,-3.6l1,-4.6l1,-5.2l1,-5.9l1,-6l1.1,-6.1l1,-5.9l1,-5.5l1,-4.7l1,-3.9l1.1,-2.8l1,-1.7l1,-.5l1,1.1l1,2.8l1,4.1l1.1,5.1l1,5.7l1,5.6l1,5l1,4l1.1,2.5l1,.9l1,-.6l1,-1.7l1,-2.7l1.1,-3.6l1,-4.3l1,-4.7l1,-5.1l1,-5l1.1,-4.7l1,-4.2l1,-3.5l1,-2.6l1,-1.6l1,-.4l1.1,1.2l1,2.9l1,4.5l1,5.8l1,6.8l1.1,7.2l1,7.3l1,6.8l1,5.9l1,4.7l1.1,3.2l1,1.3l1,-.3l1,-1.6l1,-2.7l1,-3.7l1.1,-4.4l1,-4.8l1,-4.7l1,-4.4l1,-3.7l1.1,-2.7l1,-1.6l1,-.3l1,1.5l1,3.6l1.1,5.5l1,7l1,8.3l1,9l1,9.4l1.1,9.3l1,8.7l1,7.7l1,6.2l1,4.6l1,2.6l1.1,.6l1,-1.1l1,-2.3l1,-3.5l1,-4.2l1.1,-4.6l1,-4.6l1,-4.1l1,-3.3l1,-2.2l1.1,-.9l1,.9l1,3.2l1,5.4l1,7.3l1.1,8.8l1,9.9l1,10.5l1,10.6l1,10.2l1,9.3l1.1,7.9l1,6.1l1,4.1l1,1.7l1,-.3l1.1,-1.5l1,-2.6l1,-3.6l1,-4.3l1,-4.6l1.1,-4.7l1,-4.5l1,-3.8l1,-3l1,-2l1,-.8l1.1,.9l1,3.3l1,5.4l1,7.4l1,8.8l1.1,9.8l1,10.2l1,10.2l1,9.5l1,8.3l1.1,6.6l1,4.7l1,2.4l1,.1l1,-1.5l1.1,-2.9l1,-4.2l1,-5.1l1,-5.7l1,-5.9l1,-5.8l1.1,-5.3l1,-4.4l1,-3.3l1,-1.9l1,-.3l1.1,1.7l1,3.8l1,5.8l1,7.3l1,8.4l1.1,8.8l1,8.8l1,8.1l1,7l1,5.3l1.1,3.4l1,1.1l1,-.9l1,-2.7l1,-4.4l1,-5.8l1.1,-6.8l1,-7.6l1,-7.9l1,-7.7l1,-7.2l1.1,-6.2l1,-4.9l1,-3.4l1,-1.6l1,.3l1.1,2.2l1,4.1l1,5.5l1,6.5l1,7.1l1,7l1.1,6.5l1,5.3l1,3.9l1,1.9l1,0l1.1,-2l1,-3.9l1,-5.6l1,-7l1,-8.2l1.1,-8.8l1,-9.2l1,-9l1,-8.3l1,-7.4l1.1,-6l1,-4.3l1,-2.5l1,-.5l1,1.3l1,2.9l1.1,4.3l1,5.3l1,5.6l1,5.4l1,4.7l1.1,3.5l1,2" fill="none" stroke="#008000" stroke-width="1.5" stroke-linejoin="round"/>
<path clip-path="url(#ca)" d="M120.6,251.4l.5,-8.9l.5,-9.5l.5,-9.9l.5,-10.1l.5,-10.3l.6,-10.2l.5,-10.1l.5,-9.8l.5,-9.4l.5,-8.7l.5,-8l.5,-7.3l.5,-6.3l.5,-5.2l.5,-4.2l.6,-3l.5,-1.9l.5,-.6l.5,.6l.5,1.6l.5,2.8l.5,3.7l.5,4.7l.5,5.6l.5,6.4l.5,7.1l.6,7.6l.5,8l.5,8.3l.5,8.4l.5,8.4l.5,8.2l.5,8l.5,7.4l.5,6.9l.5,6.2l.6,5.4l.5,4.5l.5,3.5l.5,2.5l.5,1.4l.5,.3l.5,-1l.5,-2.2l.5,-3.4l.5,-4.6l.5,-5.7l.6,-6.7l.5,-7.6l.5,-8.4l.5,-9.1l.5,-9.6l.5,-10l.5,-10.2l.5,-10.2l.5,-10.2l.5,-9.9l.5,-9.6l.6,-9l.5,-8.3l.5,-7.5l.5,-6.6l.5,-5.5l.5,-4.5l.5,-3.2l.5,-2.1l.5,-.8l.5,.4l.6,1.4l.5,2.4l.5,3.4l.5,4.3l.5,5.1l.5,5.9l.5,6.6l.5,7.1l.5,7.6l.5,7.9l.5,8.2l.6,8.2l.5,8.2l.5,8.1l.5,7.7l.5,7.3l.5,6.8l.5,6.2l.5,5.4l.5,4.6l.5,3.7l.6,2.8l.5,1.8l.5,.8l.5,-.3l.5,-1.5l.5,-2.5l.5,-3.7l.5,-4.7l.5,-5.7l.5,-6.5l.5,-7.3l.6,-8.1l.5,-8.5l.5,-9l.5,-9.3l.5,-9.5l.5,-9.4l.5,-9.4l.5,-9.1l.5,-8.7l.5,-8.1l.6,-7.5l.5,-6.8l.5,-5.9l.5,-4.9l.5,-4l.5,-2.8l.5,-1.7l.5,-.6l.5,.6l.5,1.8l.5,3l.6,4.1l.5,5.2l.5,6.2l.5,7l.5,7.8l.5,8.4l.5,9l.5,9.2l.5,9.5l.5,9.5l.6,9.3l.5,9.2l.5,8.6l.5,8.2l.5,7.4l.5,6.6l.5,5.7l.5,4.7l.5,3.5l.5,2.4l.5,1.2l.6,.1l.5,-1.2l.5,-2.4l.5,-3.5l.5,-4.5l.5,-5.6l.5,-6.4l.5,-7.2l.5,-7.9l.5,-8.5l.6,-8.8l.5,-9l.5,-9.2l.5,-9.1l.5,-8.8l.5,-8.5l.5,-8l.5,-7.4l.5,-6.5l.5,-5.7l.5,-4.7l.6,-3.7l.5,-2.5l.5,-1.3l.5,-.2l.5,1l.5,2.1l.5,3.3l.5,4.4l.5,5.3l.5,6.3l.5,7.2l.6,7.9l.5,8.5l.5,9.1l.5,9.4l.5,9.6l.5,9.8l.5,9.7l.5,9.5l.5,9.2l.5,8.8l.6,8.1l.5,7.5l.5,6.7l.5,5.7l.5,4.8l.5,3.7l.5,2.6l.5,1.5l.5,.3l.5,-.9l.5,-1.9l.6,-3.1l.5,-4.1l.5,-5l.5,-5.9l.5,-6.6l.5,-7.4l.5,-7.8l.5,-8.2l.5,-8.5l.5,-8.6l.6,-8.6l.5,-8.3l.5,-8.1l.5,-7.5l.5,-6.9l.5,-6.3l.5,-5.3l.5,-4.5l.5,-3.5l.5,-2.4l.5,-1.3l.6,-.1l.5,1l.5,2.2l.5,3.4l.5,4.4l.5,5.5l.5,6.5l.5,7.4l.5,8.1l.5,8.8l.6,9.3l.5,9.8l.5,10l.5,10.2l.5,10.1l.5,10l.5,9.7l.5,9.3l.5,8.7l.5,8.1l.5,7.3l.6,6.4l.5,5.4l.5,4.3l.5,3.3l.5,2.1l.5,.9l.5,-.3l.5,-1.4l.5,-2.5l.5,-3.5l.6,-4.5l.5,-5.5l.5,-6.2l.5,-6.9l.5,-7.5l.5,-8l.5,-8.3l.5,-8.4l.5,-8.4l.5,-8.4l.5,-8l.6,-7.6l.5,-7.1l.5,-6.3l.5,-5.6l.5,-4.7l.5,-3.8l.5,-2.7l.5,-1.6l.5,-.5l.5,.7l.6,1.9l.5,3.1l.5,4.2l.5,5.4l.5,6.4l.5,7.3l.5,8.1l.5,8.8l.5,9.4l.5,9.9l.5,10.1l.6,10.4l.5,10.3l.5,10.2l.5,9.9l.5,9.5l.5,9l.5,8.3l.5,7.4l.5,6.6l.5,5.6l.5,4.4l.6,3.4l.5,2.1l.5,1l.5,-.3l.5,-1.5l.5,-2.6l.5,-3.6l.5,-4.7l.5,-5.6l.5,-6.5l.6,-7.1l.5,-7.8l.5,-8.2l.5,-8.6l.5,-8.6l.5,-8.7l.5,-8.6l.5,-8.2l.5,-7.8l.5,-7.1l.5,-6.5l.6,-5.6l.5,-4.7l.5,-3.6l.5,-2.6l.5,-1.5l.5,-.3l.5,.8l.5,1.9l.5,2.9l.5,3.9l.6,4.9l.5,5.8l.5,6.5l.5,7.3l.5,7.9l.5,8.4l.5,8.8l.5,9l.5,9.3l.5,9.2l.5,9.2l.6,9l.5,8.6l.5,8.1l.5,7.6l.5,7l.5,6.1l.5,5.3l.5,4.4l.5,3.5l.5,2.4l.6,1.3l.5,.3l.5,-.9l.5,-2l.5,-3.1l.5,-4.1l.5,-5.1l.5,-6l.5,-6.8l.5,-7.5l.5,-8.1l.6,-8.5l.5,-8.7l.5,-8.9l.5,-9l.5,-8.7l.5,-8.5l.5,-8.1l.5,-7.5l.5,-6.8l.5,-6l.6,-5.1l.5,-4.1l.5,-3.1l.5,-2l.5,-.9l.5,.3l.5,1.3l.5,2.4l.5,3.4l.5,4.3l.5,5.2l.6,6.1l.5,6.8l.5,7.4l.5,7.9l.5,8.4l.5,8.6l.5,8.8l.5,8.8l.5,8.7l.5,8.5l.5,8.2l.6,7.7l.5,7.1l.5,6.4l.5,5.7l.5,4.8l.5,3.8l.5,2.9l.5,1.9l.5,.8l.5,-.4l.6,-1.5l.5,-2.8l.5,-4l.5,-5.2l.5,-6.1l.5,-7.1l.5,-7.9l.5,-8.6l.5,-9.2l.5,-9.5l.5,-9.8l.6,-9.9l.5,-9.8l.5,-9.5l.5,-9.2l.5,-8.6l.5,-7.9l.5,-7.1l.5,-6.1l.5,-5.2l.5,-4l.6,-2.8l.5,-1.5l.5,-.4l.5,.9l.5,1.9l.5,3l.5,4l.5,5l.5,5.8l.5,6.6l.5,7.3l.6,7.8l.5,8.2l.5,8.5l.5,8.7l.5,8.7l.5,8.5l.5,8.2l.5,7.8l.5,7.3l.5,6.6l.6,5.8l.5,5l.5,4l.5,3l.5,1.9l.5,.9l.5,-.4l.5,-1.5l.5,-2.8l.5,-4l.5,-5.1l.6,-6.1l.5,-7.1l.5,-8l.5,-8.6l.5,-9.3l.5,-9.8l.5,-10.1l.5,-10.2l.5,-10.3l.5,-10.1l.6,-9.9l.5,-9.4l.5,-8.8l.5,-8.2l.5,-7.3l.5,-6.4l.5,-5.4l.5,-4.2l.5,-3.1l.5,-1.9l.5,-.6l.6,.6l.5,1.8l.5,3l.5,4.2l.5,5.2l.5,6.1l.5,6.9l.5,7.7l.5,8.2l.5,8.5l.6,8.9l.5,8.9l.5,8.7l.5,8.5l.5,8.1l.5,7.5l.5,6.7l.5,5.9l.5,5l.5,3.8l.5,2.7l.6,1.6l.5,.3l.5,-1l.5,-2.1l.5,-3.3l.5,-4.5l.5,-5.5l.5,-6.6l.5,-7.4l.5,-8.2l.5,-8.9l.6,-9.5l.5,-9.9l.5,-10.1l.5,-10.3l.5,-10.2l.5,-10.1l.5,-9.8l.5,-9.4l.5,-8.7l.5,-8l.6,-7.3l.5,-6.3l.5,-5.2l.5,-4.2l.5,-3l.5,-1.9l.5,-.6l.5,.6l.5,1.6l.5,2.8l.5,3.7l.6,4.7l.5,5.6l.5,6.4l.5,7.1l.5,7.6l.5,8l.5,8.3l.5,8.4l.5,8.4l.5,8.2l.6,8l.5,7.4l.5,6.9l.5,6.2l.5,5.4l.5,4.5l.5,3.5l.5,2.5l.5,1.4l.5,.3l.5,-1l.6,-2.2l.5,-3.4l.5,-4.6l.5,-5.7l.5,-6.7l.5,-7.6l.5,-8.4l.5,-9.1l.5,-9.6l.5,-10l.6,-10.2l.5,-10.2l.5,-10.2l.5,-9.9l.5,-9.6l.5,-9l.5,-8.3l.5,-7.5l.5,-6.6l.5,-5.5l.5,-4.5l.6,-3.2l.5,-2.1l.5,-.8l.5,.4l.5,1.4l.5,2.4l.5,3.4l.5,4.3l.5,5.1l.5,5.9l.6,6.6l.5,7.1l.5,7.6l.5,7.9l.5,8.2l.5,8.2l.5,8.2l.5,8.1l.5,7.7l.5,7.3l.5,6.8l.6,6.2l.5,5.4l.5,4.6l.5,3.7l.5,2.8l.5,1.8l.5,.8l.5,-.3l.5,-1.5l.5,-2.5l.6,-3.7l.5,-4.7l.5,-5.7l.5,-6.5l.5,-7.3l.5,-8.1l.5,-8.5l.5,-9l.5,-9.3l.5,-9.5l.5,-9.4l.6,-9.4l.5,-9.1l.5,-8.7l.5,-8.1l.5,-7.5l.5,-6.8l.5,-5.9l.5,-4.9l.5,-4l.5,-2.8l.5,-1.7l.6,-.6l.5,.6l.5,1.8l.5,3l.5,4.1l.5,5.2l.5,6.2l.5,7l.5,7.8l.5,8.4l.6,9l.5,9.2l.5,9.5l.5,9.5l.5,9.3l.5,9.2l.5,8.6l.5,8.2l.5,7.4l.5,6.6l.5,5.7l.6,4.7l.5,3.5l.5,2.4l.5,1.2l.5,.1l.5,-1.2l.5,-2.4l.5,-3.5l.5,-4.5l.5,-5.6l.6,-6.4l.5,-7.2l.5,-7.9l.5,-8.5l.5,-8.8l.5,-9l.5,-9.2l.5,-9.1l.5,-8.8l.5,-8.5l.5,-8l.6,-7.4l.5,-6.5l.5,-5.7l.5,-4.7l.5,-3.7l.5,-2.5l.5,-1.3l.5,-.2l.5,1l.5,2.1l.6,3.3l.5,4.4l.5,5.3l.5,6.3l.5,7.2l.5,7.9l.5,8.5l.5,9.1l.5,9.4l.5,9.6l.5,9.8l.6,9.7l.5,9.5l.5,9.2l.5,8.8l.5,8.1l.5,7.5l.5,6.7l.5,5.7l.5,4.8l.5,3.7l.6,2.6l.5,1.5l.5,.3l.5,-.9l.5,-1.9l.5,-3.1l.5,-4.1l.5,-5l.5,-5.9l.5,-6.6l.5,-7.4l.6,-7.8l.5,-8.2l.5,-8.5l.5,-8.6l.5,-8.6l.5,-8.3l.5,-8.1l.5,-7.5l.5,-6.9l.5,-6.3l.5,-5.3l.6,-4.5l.5,-3.5l.5,-2.4l.5,-1.3l.5,-.1l.5,1l.5,2.2l.5,3.4l.5,4.4l.5,5.5l.6,6.5l.5,7.4l.5,8.1l.5,8.8l.5,9.3l.5,9.8l.5,10l.5,10.2l.5,10.1l.5,10l.5,9.7l.6,9.3l.5,8.7l.5,8.1l.5,7.3l.5,6.4l.5,5.4l.5,4.3l.5,3.3l.5,2.1l.5,.9l.6,-.3l.5,-1.4l.5,-2.5l.5,-3.5l.5,-4.5l.5,-5.5l.5,-6.2l.5,-6.9l.5,-7.5l.5,-8l.5,-8.3l.6,-8.4l.5,-8.4l.5,-8.4l.5,-8l.5,-7.6l.5,-7.1l.5,-6.3l.5,-5.6l.5,-4.7l.5,-3.8l.6,-2.7l.5,-1.6l.5,-.5l.5,.7l.5,1.9l.5,3.1l.5,4.2l.5,5.4l.5,6.4l.5,7.3l.5,8.1l.6,8.8l.5,9.4l.5,9.9l.5,10.1l.5,10.4l.5,10.3l.5,10.2l.5,9.9l.5,9.5l.5,9l.6,8.3l.5,7.4l.5,6.6l.5,5.6l.5,4.4l.5,3.4l.5,2.1l.5,1l.5,-.3l.5,-1.5l.5,-2.6l.6,-3.6l.5,-4.7l.5,-5.6l.5,-6.5l.5,-7.1l.5,-7.8l.5,-8.2l.5,-8.6l.5,-8.6l.5,-8.7l.6,-8.6l.5,-8.2l.5,-7.8l.5,-7.1l.5,-6.5l.5,-5.6l.5,-4.7l.5,-3.6l.5,-2.6l.5,-1.5l.5,-.3l.6,.8l.5,1.9l.5,2.9l.5,3.9l.5,4.9l.5,5.8l.5,6.5l.5,7.3l.5,7.9l.5,8.4l.5,8.8l.6,9l.5,9.3l.5,9.2l.5,9.2l.5,9l.5,8.6l.5,8.1l.5,7.6l.5,7l.5,6.1l.6,5.3l.5,4.4l.5,3.5l.5,2.4l.5,1.3l.5,.3l.5,-.9l.5,-2l.5,-3.1l.5,-4.1l.5,-5.1l.6,-6l.5,-6.8l.5,-7.5l.5,-8.1l.5,-8.5l.5,-8.7l.5,-8.9l.5,-9l.5,-8.7l.5,-8.5l.6,-8.1l.5,-7.5l.5,-6.8l.5,-6l.5,-5.1l.5,-4.1l.5,-3.1l.5,-2l.5,-.9l.5,.3l.5,1.3l.6,2.4l.5,3.4l.5,4.3l.5,5.2l.5,6.1l.5,6.8l.5,7.4l.5,7.9l.5,8.4l.5,8.6l.6,8.8l.5,8.8l.5,8.7l.5,8.5l.5,8.2l.5,7.7l.5,7.1l.5,6.4l.5,5.7l.5,4.8l.5,3.8l.6,2.9l.5,1.9l.5,.8l.5,-.4l.5,-1.5l.5,-2.8l.5,-4l.5,-5.2l.5,-6.1l.5,-7.1l.6,-7.9l.5,-8.6l.5,-9.2l.5,-9.5l.5,-9.8l.5,-9.9l.5,-9.8l.5,-9.5l.5,-9.2l.5,-8.6l.5,-7.9l.6,-7.1l.5,-6.1l.5,-5.2l.5,-4l.5,-2.8l.5,-1.5l.5,-.4l.5,.9l.5,1.9l.5,3l.6,4l.5,5l.5,5.8l.5,6.6l.5,7.3l.5,7.8l.5,8.2l.5,8.5l.5,8.7l.5,8.7l.5,8.5l.6,8.2l.5,7.8l.5,7.3l.5,6.6l.5,5.8l.5,5l.5,4l.5,3l.5,1.9l.5,.9l.5,-.4l.6,-1.5l.5,-2.8l.5,-4l.5,-5.1l.5,-6.1l.5,-7.1l.5,-8l.5,-8.6l.5,-9.3l.5,-9.8l.6,-10.1l.5,-10.2l.5,-10.3l.5,-10.1l.5,-9.9l.5,-9.4l.5,-8.8l.5,-8.2l.5,-7.3l.5,-6.4l.5,-5.4l.6,-4.2l.5,-3.1l.5,-1.9l.5,-.6l.5,.6l.5,1.8l.5,3l.5,4.2l.5,5.2l.5,6.1l.6,6.9l.5,7.7l.5,8.2l.5,8.5l.5,8.9l.5,8.9l.5,8.7l.5,8.5l.5,8.1l.5,7.5l.5,6.7l.6,5.9l.5,5l.5,3.8l.5,2.7l.5,1.6l.5,.3l.5,-1l.5,-2.1l.5,-3.3l.5,-4.5l.6,-5.5l.5,-6.6l.5,-7.4l.5,-8.2" fill="none" stroke="#0000ff" stroke-width="1.4" stroke-linejoin="round"/>
<path clip-path="url(#cb)" d="M648.7,48.8l.8,.3l.7,.7l.7,1.5l.7,.2l.8,-3.6l.7,2.3l.7,-.2l.8,.1l.7,.2l.7,1.4l.7,-2.2l.8,1.6l.7,.1l.7,-.4l.8,-.3l.7,-1.1l.7,1.1l.8,-.4l.7,-1l.7,2.3l.7,-1.2l.8,1.5l.7,-1.7l.7,.6l.8,-1.4l.7,1.2l.7,.6l.8,-.8l.7,-.2l.7,-.4l.7,.5l.8,1.2l.7,-.9l.7,-.1l.8,-.1l.7,-.4l.7,1.1l.7,-2.4l.8,2.2l.7,-.5l.7,-.5l.8,1.2l.7,.2l.7,-.2l.8,-.6l.7,.4l.7,-.7l.7,-.8l.8,.9l.7,-.1l.7,.7l.8,-1.1l.7,4l.7,-3.6l.7,.6l.8,.3l.7,-.9l.7,-.4l.8,-.2l.7,1.5l.7,.3l.8,-2.1l.7,2.5l.7,-2.4l.7,1l.8,-1.3l.7,1.9l.7,1l.8,-1.6l.7,-.5l.7,-.2l.7,.4l.8,-.6l.7,2.1l.7,-.6l.8,.5l.7,-.4l.7,.8l.8,.5l.7,-2.7l.7,-.1l.7,-.8l.8,2.2l.7,-1.1l.7,-.1l.8,1l.7,-.7l.7,-.1l.8,.5l.7,0l.7,-.1l.7,-2.9l.8,2.9l.7,-2.2l.7,2.5l.8,-.9l.7,.9l.7,-.4l.7,-.3l.8,.2l.7,-.4l.7,.7l.8,-.3l.7,.8l.7,-.4l.8,-.2l.7,0l.7,-.2l.7,.5l.8,-.3l.7,.3l.7,-.4l.8,0l.7,.7l.7,-.5l.7,-.5l.8,.5l.7,-.1l.7,-.6l.8,-.2l.7,1.1l.7,.7l.8,-1.5l.7,.5l.7,-.1l.7,0l.8,.3l.7,-.1l.7,-.2l.8,.3l.7,.1l.7,-.4l.8,.3l.7,-.1l.7,-1.1l.7,.9l.8,.2l.7,-.1l.7,.7l.8,-.6l.7,-.3l.7,.5l.7,-.3l.8,.6l.7,-.6l.7,.3l.8,-.7l.7,.9l.7,-.6l.8,-.2l.7,.5l.7,-.8l.7,1.1l.8,-1l.7,0l.7,.5l.8,.4l.7,-.8l.7,.5l.7,-.2l.8,1l.7,-1.5l.7,.5l.8,.1l.7,-.3l.7,.7l.8,-.9l.7,1l.7,-.6l.7,.7l.8,-.5l.7,-1l.7,.8l.8,.1l.7,0l.7,.2l.7,-.7l.8,.4l.7,.9l.7,-.2l.8,-1.1l.7,.5l.7,-.4l.8,.4l.7,-.2l.7,.6l.7,-.2l.8,.3l.7,-.7l.7,0l.8,.9l.7,-1.2l.7,.4l.8,.3l.7,-.1l.7,.3l.7,.2l.8,-.9l.7,0l.7,.4l.8,-.6l.7,.2l.7,.5l.7,0l.8,-.3l.7,-.7l.7,.6l.8,.1l.7,-1.5l.7,1.5l.8,-.3l.7,.8l.7,-.3l.7,0l.8,-.1l.7,.4l.7,-1.1l.8,0l.7,.5l.7,.2l.7,0l.8,-.2l.7,1l.7,-.9l.8,.3l.7,-.3l.7,-.1l.8,.1l.7,.1l.7,.4l.7,.1l.8,0l.7,-.5l.7,-.6l.8,.5l.7,.5l.7,-.4l.7,.4l.8,-.1l.7,-.9l.7,.4l.8,.7l.7,-1.1l.7,.9l.8,-.3l.7,.4l.7,-.4l.7,.3l.8,-.7l.7,.1l.7,-.1l.8,.5l.7,-.4l.7,-.5l.8,-.1l.7,1.2l.7,-.6l.7,.6l.8,.1l.7,.1l.7,-.2l.8,-.2l.7,-.2l.7,.5l.7,-.4l.8,.2l.7,-.1l.7,-.2l.8,-.1l.7,.4l.7,-.7l.8,.5l.7,0l.7,1.1l.7,-1.2l.8,-.4l.7,.6l.7,.1l.8,-1.4l.7,1.2l.7,.1l.7,-.2l.8,1.1l.7,-1l.7,.5l.8,-1l.7,.7l.7,-.6l.8,.4l.7,.1l.7,0l.7,-.1l.8,-.2l.7,-.1l.7,1.3l.8,-.9l.7,0l.7,.1l.8,-.4l.7,.5l.7,-.4l.7,0l.8,.5l.7,-.5l.7,-.6l.8,.8l.7,.4l.7,-.1l.7,-1l.8,.9l.7,-.1l.7,-.2l.8,.5l.7,-.1l.7,-.4l.8,-.3l.7,-.1l.7,.7l.7,-.4l.8,.4l.7,.1l.7,-.4l.8,-.3l.7,.5l.7,-.7l.7,.7l.8,0l.7,-.2l.7,-.1l.8,.1l.7,-.2l.7,.4l.8,.8l.7,-.9l.7,0l.7,-.5l.8,.2l.7,.3l.7,-.8l.8,.7l.7,.3l.7,-.5l.7,-.1l.8,-.2l.7,.3l.7,.4l.8,-.2l.7,-.3l.7,1.5l.8,-1.3l.7,-.3l.7,.6l.7,-.5l.8,.6l.7,-.6l.7,.1l.8,0l.7,-.1l.7,-.3l.8,.8l.7,-.4l.7,.4l.7,-.3l.8,-.2l.7,-.2l.7,.3l.8,0l.7,-.3l.7,1.1l.7,-.7l.8,.1l.7,-.8l.7,.6l.8,1.4l.7,-.6l.7,-.7l.8,.3l.7,-.2l.7,-.3l.7,-.3l.8,.1l.7,.6l.7,.1l.8,-.8l.7,.1l.7,.4l.7,.8l.8,-.9l.7,.7l.7,-.3l.8,-.3l.7,.4l.7,0l.8,-.4l.7,.5l.7,-.5l.7,.4l.8,-.6l.7,.4l.7,-.3l.8,.5l.7,0l.7,-.6l.8,.2l.7,.3l.7,-.2l.7,.1l.8,.7l.7,-.5l.7,.1l.8,-.2l.7,-.6l.7,0l.7,.2l.8,.1l.7,.1l.7,.9l.8,-1.2l.7,-.2l.7,.3l.8,-.1l.7,0l.7,.4l.7,-.2l.8,.4l.7,-.4l.7,.2l.8,-.3l.7,.3l.7,-.5l.7,.2l.8,-.2l.7,.5l.7,-.1l.8,-.3l.7,.3l.7,-.6l.8,-.5l.7,.6l.7,.9l.7,0l.8,-.6l.7,-.2l.7,.7l.8,.1l.7,-.7l.7,.1l.7,.1l.8,-.4l.7,.1l.7,.5l.8,-.1l.7,-.3l.7,.5l.8,0l.7,.5l.7,-.5l.7,-.3l.8,0l.7,0l.7,.5l.8,-.3l.7,-.9l.7,.6l.8,-.2l.7,.7l.7,0l.7,.4l.8,-1.2l.7,.8l.7,-.7l.8,.2l.7,.9l.7,-1l.7,.5l.8,-.3l.7,.2l.7,0l.8,.7l.7,-1.1l.7,-.1l.8,.8l.7,-.7l.7,0l.7,-.3l.8,.8l.7,.2l.7,-1l.8,.6l.7,-.3l.7,.5l.7,.2l.8,-.5l.7,.6l.7,-.9l.8,.2l.7,.8l.7,-.4l.8,.7l.7,-1.2l.7,.1l.7,-.5l.8,1.1l.7,.1l.7,-1l.8,.3l.7,.3l.7,-.1l.7,-.1l.8,.4l.7,-.1l.7,-.3l.8,.3l.7,.1l.7,.4l.8,-.7l.7,.2l.7,.5l.7,-.5l.8,.8l.7,-1.1l.7,-.5l.8,.3l.7,1l.7,-.4l.8,-.6l.7,.6l.7,-.3l.7,.3l.8,-.4l.7,-.2l.7,-.1l.8,.1l.7,.1l.7,0l.7,.6l.8,-.6l.7,1.3l.7,-1.4l.8,.6l.7,-.1l.7,.2l.8,-.6l.7,.7l.7,-.9l.7,.3l.8,-.1l.7,.5l.7,-.6l.8,.1l.7,.2l.7,-.5l.7,-.6l.8,2.9l.7,-1.6l.7,0l.8,-.7l.7,.2l.7,.5l.8,-.4l.7,.9l.7,-1l.7,.5l.8,0l.7,-.5l.7,-.4l.8,2.5l.7,-2.1l.7,.4l.8,-.6l.7,1.4l.7,-1.6l.7,.1l.8,1l.7,-.8l.7,.3l.8,-.7l.7,1.3l.7,0l.7,-.1l.8,-1.7l.7,.6l.7,.8l.8,-1l.7,1l.7,-.7l.8,-1l.7,1.2l.7,1.7l.7,-2.5l.8,.8l.7,.8l.7,-.4l.8,-.4l.7,.8l.7,-.3l.7,-.3l.8,-1.3l.7,1.1l.7,-.2l.8,.7l.7,.2l.7,.5l.8,.7l.7,-1.6l.7,.1l.7,.3l.8,-.5l.7,.9l.7,1.1l.8,.2l.7,.5l.7,-3l.7,1.5l.8,-1.7l.7,.4l.7,-1l.8,2.1l.7,-2.1l.7,1.2l.8,-.1l.7,.6l.7,-.3l.7,.6l.8,-.3l.7,-.7l.7,.1l.8,-.6l.7,1.7l.7,0l.8,2l.7,-3.6l.7,.2l.7,-1.3l.8,1.2l.7,.4l.7,1.3l.8,-1.5l.7,.5l.7,.7l.7,-1.2l.8,1.6l.7,.2l.7,-2.1l.8,.7l.7,-.6l.7,1.1l.8,.1l.7,-1.5l.7,1.3l.7,-.8l.8,.4l.7,.3l.7,-.1l.8,-.6l.7,-.3l.7,-.8l.7,.4l.8,2.1l.7,-1.9l.7,.3l.8,.9l.7,-1.3l.7,1.3l.8,-.3l.7,1l.7,-2l.7,-.3l.8,.5l.7,1l.7,-.2l.8,-.2l.7,.3l.7,-1.1l.8,-.1l.7,.8l.7,1l.7,0l.8,-.9l.7,.5l.7,.3l.8,.3l.7,-1l.7,.4l.7,-.3l.8,-.7l.7,.7l.7,-.9l.8,1l.7,.6l.7,.5l.8,-1.8l.7,.5l.7,.6l.7,-1.6l.8,.4l.7,1.4l.7,-.9l.8,.6l.7,0" fill="none" stroke="#ff0000" stroke-width="1.7" stroke-linejoin="round"/>
<path clip-path="url(#cb)" d="M648.7,142.4l.4,-.9l.4,-.2l.3,.2l.4,-.1l.3,1.1l.4,-.4l.4,-1.5l.3,-.6l.4,1.5l.4,.2l.3,0l.4,.1l.4,-.3l.3,-1l.4,1.4l.4,-.8l.3,.7l.4,-.2l.4,-.1l.3,.2l.4,-1.4l.3,.7l.4,1.5l.4,-1.6l.3,.3l.4,-.9l.4,.5l.3,1.2l.4,-1.4l.4,.5l.3,.1l.4,.2l.4,.4l.3,-.8l.4,.3l.4,.6l.3,-.2l.4,-.1l.3,0l.4,-.3l.4,.5l.3,.1l.4,-1.4l.4,1.6l.3,1.7l.4,-.9l.4,.6l.3,.6l.4,.7l.4,.3l.3,.9l.4,.2l.4,.7l.3,1l.4,-.2l.4,.8l.3,0l.4,.8l.3,.6l.4,-.2l.4,3.2l.3,-1.1l.4,.1l.4,.6l.3,-.1l.4,-.2l.4,.7l.3,-1.8l.4,2.2l.4,-.7l.3,1.1l.4,0l.4,.1l.3,.4l.4,0l.3,.3l.4,-1.5l.4,.6l.3,.9l.4,-.6l.4,.9l.3,-.8l.4,.6l.4,-.9l.3,.5l.4,-.8l.4,.8l.3,-.1l.4,.4l.4,.6l.3,-1.6l.4,1.7l.3,-1.3l.4,.5l.4,-.1l.3,-.4l.4,-.2l.4,.4l.3,.5l.4,-1.1l.4,.8l.3,-.9l.4,.6l.4,.5l.3,-.8l.4,1.2l.4,-.7l.3,0l.4,-.5l.3,-.2l.4,1.3l.4,-.4l.3,-.3l.4,-.9l.4,1l.3,.7l.4,-.9l.4,-.3l.3,1.1l.4,-1.9l.4,-.3l.3,0l.4,.5l.4,-1l.3,-1l.4,.9l.3,-.3l.4,-.6l.4,-.4l.3,-1.4l.4,1.2l.4,-1.7l.3,-.2l.4,-.6l.4,.1l.3,0l.4,-1.4l.4,.8l.3,-.8l.4,.4l.4,-1l.3,-.8l.4,.1l.3,-.1l.4,.3l.4,-1.6l.3,0l.4,0l.4,-2.9l.3,1.8l.4,-1.1l.4,-.3l.3,0l.4,-.5l.4,.7l.3,-.7l.4,-.4l.4,-1.5l.3,.4l.4,-.8l.4,.1l.3,.6l.4,-2.1l.3,.8l.4,-3.1l.4,2.4l.3,-1l.4,-.2l.4,-.1l.3,-.3l.4,-1l.4,-2.8l.3,2l.4,-.4l.4,-.3l.3,-.6l.4,-.3l.4,-.4l.3,.5l.4,-.8l.3,-2.8l.4,1.8l.4,-1.6l.3,1.5l.4,-1.1l.4,.9l.3,-1.3l.4,-.3l.4,.2l.3,0l.4,-.2l.4,-1.1l.3,-.1l.4,-.2l.4,-.5l.3,-.5l.4,-.4l.3,0l.4,-1.2l.4,.2l.3,-.2l.4,-.1l.4,.6l.3,-1.9l.4,1.6l.4,-.9l.3,-.8l.4,.2l.4,.2l.3,-.7l.4,-1.1l.4,1.3l.3,.8l.4,-1.9l.3,.8l.4,-.2l.4,-.4l.3,-.2l.4,-.5l.4,1l.3,-1l.4,.1l.4,.8l.3,-.1l.4,-.4l.4,.8l.3,-.2l.4,.6l.4,0l.3,.5l.4,.1l.3,-1.4l.4,.3l.4,1.4l.3,-1.5l.4,1.3l.4,-.5l.3,-.4l.4,1.5l.4,-.8l.3,.8l.4,.1l.4,.2l.3,0l.4,-.5l.4,.7l.3,-.5l.4,1.3l.3,-.3l.4,.8l.4,-.3l.3,.5l.4,-.4l.4,.9l.3,-.2l.4,-.2l.4,1.2l.3,-1.4l.4,1.9l.4,-1.2l.3,.3l.4,-.6l.4,3.9l.3,-3.1l.4,-.1l.4,.4l.3,.6l.4,-.2l.3,1.2l.4,-.2l.4,.6l.3,-1.7l.4,1l.4,.8l.3,.1l.4,.3l.4,0l.3,-1.4l.4,1.1l.4,.3l.3,1l.4,-.9l.4,-.4l.3,1.4l.4,-.9l.3,.7l.4,-.4l.4,-.7l.3,.7l.4,-.4l.4,1l.3,-.4l.4,1.3l.4,-.6l.3,1l.4,-.6l.4,-.5l.3,0l.4,.6l.4,-2.4l.3,2.4l.4,-.5l.3,.4l.4,.4l.4,2.7l.3,-2.3l.4,-.3l.4,-.4l.3,-.8l.4,.8l.4,-1.4l.3,1l.4,-.8l.4,.6l.3,.4l.4,-1.2l.4,.3l.3,-.9l.4,.6l.3,-.5l.4,.4l.4,-1.1l.3,.5l.4,1.1l.4,-1.8l.3,.4l.4,-1.5l.4,-.2l.3,.6l.4,.2l.4,.4l.3,-.6l.4,-.5l.4,-.4l.3,.6l.4,-1.4l.3,0l.4,-.3l.4,-.3l.3,-.7l.4,.4l.4,-.3l.3,-.3l.4,-.9l.4,-.6l.3,-.5l.4,.7l.4,-.5l.3,-1.2l.4,-.3l.4,.7l.3,0l.4,0l.3,-1l.4,-.7l.4,-.4l.3,.2l.4,-.7l.4,.1l.3,-1.4l.4,.2l.4,-.4l.3,-.2l.4,-.2l.4,-1l.3,.3l.4,-.7l.4,.3l.3,-1.3l.4,-.3l.3,1.1l.4,-1.1l.4,.4l.3,-.4l.4,-1.1l.4,-.7l.3,-.5l.4,.5l.4,0l.3,-.5l.4,-.8l.4,.1l.3,.4l.4,-1.7l.4,.5l.3,-.8l.4,.5l.4,-.2l.3,-.7l.4,.3l.3,-1l.4,0l.4,-1.2l.3,-.1l.4,1l.4,-.4l.3,-.1l.4,.1l.4,0l.3,-.3l.4,.1l.4,-1.1l.3,-.3l.4,0l.4,-.3l.3,-.6l.4,1.6l.3,-.2l.4,-.4l.4,-.8l.3,-.3l.4,.6l.4,-.4l.3,-.1l.4,-.1l.4,-.5l.3,.6l.4,-.5l.4,-1.2l.3,1.1l.4,-.3l.4,.1l.3,-.9l.4,-.6l.3,.9l.4,-1.3l.4,1.4l.3,-.9l.4,.2l.4,.7l.3,.5l.4,-.9l.4,-.5l.3,.3l.4,.6l.4,-.4l.3,-.1l.4,.4l.4,-1.1l.3,1.6l.4,.9l.3,1.3l.4,-1l.4,-1.6l.3,.4l.4,.1l.4,1l.3,.1l.4,-.2l.4,-.2l.3,1.4l.4,-.1l.4,-.7l.3,1l.4,-.3l.4,1l.3,-.1l.4,1.2l.3,0l.4,1.2l.4,-1l.3,.5l.4,.6l.4,-.8l.3,1l.4,2.9l.4,-2l.3,.3l.4,0l.4,.6l.3,-.3l.4,1.1l.4,.1l.3,-1.3l.4,.9l.3,-.2l.4,-.6l.4,.1l.3,.7l.4,-.2l.4,.6l.3,-.3l.4,.8l.4,0l.3,-.7l.4,.4l.4,.5l.3,-.1l.4,0l.4,.7l.3,-1.2l.4,1.3l.4,-.3l.3,-.2l.4,0l.3,-.3l.4,-.2l.4,.2l.3,.2l.4,-.2l.4,-.4l.3,.9l.4,-.8l.4,.6l.3,.4l.4,.2l.4,-.2l.3,.1l.4,-.4l.4,1.2l.3,-.9l.4,-.1l.3,-.2l.4,.3l.4,-1.2l.3,-.2l.4,.8l.4,-1l.3,.6l.4,-.7l.4,.7l.3,-1.3l.4,1.9l.4,-1.1l.3,1.8l.4,-1l.4,-1.4l.3,-1.3l.4,1.3l.3,-.6l.4,-.1l.4,-.7l.3,1.1l.4,-1.2l.4,.4l.3,-.5l.4,-.3l.4,-.5l.3,1.1l.4,-.7l.4,-1.1l.3,-.1l.4,-.5l.4,0l.3,.4l.4,-.4l.3,-1.1l.4,.2l.4,-1l.3,.8l.4,-3.1l.4,2.1l.3,-.8l.4,.4l.4,1l.3,-2l.4,-.4l.4,.3l.3,-.4l.4,0l.4,-.7l.3,-.6l.4,-.2l.3,.3l.4,1.3l.4,-2.1l.3,-.8l.4,-.4l.4,.3l.3,.2l.4,-.9l.4,-1.8l.3,.9l.4,-.2l.4,.2l.3,-1.1l.4,-.1l.4,-.2l.3,0l.4,-.5l.3,-.3l.4,-.3l.4,.5l.3,-.1l.4,-.8l.4,-1.1l.3,.1l.4,-.3l.4,1l.3,-2l.4,.5l.4,.1l.3,-.4l.4,2.4l.4,-2l.3,-.7l.4,0l.4,-.3l.3,.8l.4,0l.3,-1.2l.4,1.2l.4,-1.3l.3,-.5l.4,.6l.4,-.5l.3,.1l.4,-.4l.4,1.2l.3,-1.8l.4,.3l.4,-.6l.3,1l.4,.1l.4,-1.6l.3,1.3l.4,-.8l.3,.3l.4,-.1l.4,-.6l.3,.6l.4,.4l.4,-1.2l.3,.7l.4,-1.7l.4,1.6l.3,-.3l.4,.3l.4,-2.1l.3,1.8l.4,.8l.4,-.8l.3,-.7l.4,1.7l.3,-.5l.4,.7l.4,-.5l.3,.1l.4,-.5l.4,3.2l.3,-1.4l.4,-.4l.4,.3l.3,.2l.4,.4l.4,.2l.3,.4l.4,-.9l.4,1.3l.3,.5l.4,.3l.3,.9l.4,-.8l.4,.6l.3,0l.4,-1.2l.4,.5l.3,1.9l.4,-.4l.4,-.6l.3,-.3l.4,0l.4,.4l.3,1.2l.4,.2l.4,-.1l.3,.5l.4,-.2l.3,.1l.4,1l.4,.2l.3,-.9l.4,0l.4,1.7l.3,-.5l.4,.6l.4,-.1l.3,.7l.4,0l.4,1.2l.3,.2l.4,.3l.4,.1l.3,-1l.4,.3l.3,.3l.4,1l.4,.2l.3,.3l.4,1.4l.4,-1.3l.3,-.3l.4,-.9l.4,.8l.3,.6l.4,-1.2l.4,.1l.3,1.1l.4,-.3l.4,-.8l.3,.8l.4,.6l.4,-.7l.3,.3l.4,-.4l.3,.8l.4,-.6l.4,.4l.3,-.2l.4,-.9l.4,.9l.3,.1l.4,.3l.4,-.2l.3,-.9l.4,.4l.4,.3l.3,-1.3l.4,1.7l.4,-.4l.3,.4l.4,-.3l.3,-.4l.4,.9l.4,-.7l.3,-.3l.4,-.2l.4,.9l.3,.3l.4,-.2l.4,-.1l.3,-.1l.4,-.9l.4,-.3l.3,.2l.4,.1l.4,.8l.3,-.1l.4,-2l.3,.5l.4,.7l.4,-1l.3,.1l.4,0l.4,-.1l.3,-.4l.4,1.4l.4,-2l.3,-1.4l.4,.6l.4,-.2l.3,.1l.4,-.7l.4,-.3l.3,0l.4,-.7l.3,-.3l.4,-.2l.4,-1.2l.3,.2l.4,-.8l.4,1.3l.3,-1.7l.4,.5l.4,-.5l.3,.3l.4,-.5l.4,-.4l.3,.5l.4,-.6l.4,-1.7l.3,1.2l.4,-.3l.3,.6l.4,-2.2l.4,1.2l.3,.1l.4,-1l.4,.4l.3,.3l.4,-1.2l.4,.2l.3,-.4l.4,0l.4,-.2l.3,-.3l.4,.3l.4,-.7l.3,0l.4,.7l.3,-1.4l.4,-.1l.4,.1l.3,.1l.4,-1.1l.4,.7l.3,-.8l.4,-.1l.4,.3l.3,-.1l.4,-1l.4,1.2l.3,-.2l.4,-.8l.4,.7l.3,1.2l.4,-2.6l.4,.8l.3,.3l.4,-1.2l.3,1.3l.4,-.2l.4,-.1l.3,-.3l.4,-.5l.4,.4l.3,.8l.4,-.2l.4,-.8l.3,1.3l.4,-1.2l.4,.3l.3,.6l.4,-.4l.4,2l.3,-2.1l.4,.6l.3,-.7l.4,.3l.4,0l.3,1.1l.4,-.3l.4,-2.4l.3,2.4l.4,.7l.4,-.7l.3,-.4l.4,1.1l.4,.5l.3,-.7l.4,.6l.4,.4l.3,.2l.4,.4l.3,.5l.4,-.5l.4,.5l.3,-.6l.4,.2l.4,1.3l.3,-.6l.4,.3l.4,.4l.3,.8l.4,-.4l.4,.8l.3,-1.2l.4,2.4l.4,-.2l.3,.9l.4,.6l.3,-.3l.4,.3l.4,.8l.3,.7l.4,.2l.4,.4l.3,.2l.4,.4l.4,.4l.3,0l.4,1.3l.4,.3l.3,.2l.4,0l.4,.2l.3,.9l.4,-.1l.3,1.1l.4,0l.4,0l.3,.8l.4,.1l.4,.4l.3,-.9l.4,.9l.4,.9l.3,.3l.4,1.3l.4,-1.3l.3,1.3l.4,-.1l.4,.3l.3,.5l.4,.3l.3,-.1l.4,-.4l.4,.1l.3,1.1l.4,-.5l.4,.9l.3,-1l.4,-.8l.4,1.9l.3,-1l.4,.6l.4,0l.3,-.1l.4,.1l.4,-.2l.3,0l.4,-1.1l.3,1.3l.4,0l.4,.8l.3,.1l.4,-1.2l.4,.9l.3,-.8l.4,.8l.4,-.2l.3,-.1l.4,-.2l.4,0l.3,.6l.4,-.5l.4,0l.3,-3.2l.4,2.4l.4,.3l.3,-.8l.4,.1l.3,-1.3l.4,1l.4,.4l.3,.2l.4,-.8l.4,-.8l.3,.1l.4,.6l.4,-1l.3,.2l.4,-.6l.4,0l.3,.1l.4,.5l.4,-.6l.3,-.5l.4,-.5l.3,-.1l.4,0l.4,-.3l.3,-.6l.4,-.7l.4,.4l.3,-.3l.4,-.6l.4,1.4l.3,-1.5l.4,-.9l.4,.3l.3,.1l.4,-.8l.4,-.2l.3,-.4l.4,.7l.3,-.8l.4,-1.7l.4,.3l.3,.5l.4,-.2l.4,.3l.3,-.2l.4,.4l.4,-1.8l.3,.7l.4,-.4l.4,.3l.3,.2l.4,1.7l.4,-2l.3,-.4l.4,.8l.3,-.7l.4,-.4l.4,-.3l.3,.2l.4,.1l.4,-1.4l.3,1l.4,-.3l.4,-.5l.3,0l.4,0l.4,.2l.3,.3l.4,-.2l.4,.4l.3,-.3l.4,.7l.3,-.7l.4,-.9l.4,.4l.3,-.3l.4,.7l.4,0l.3,.9l.4,-1.9l.4,.8l.3,.1l.4,-.1l.4,.7l.3,-.5l.4,-1l.4,1.2l.3,-1l.4,1l.3,-3.2l.4,3.1l.4,-.3l.3,.2l.4,-.8l.4,.6l.3,.4l.4,-.2l.4,-1.4l.3,1.7l.4,.2l.4,.2l.3,-.8l.4,.6l.4,.2l.3,-.5l.4,.9l.4,.2l.3,2.2l.4,-2l.3,-.3l.4,.4l.4,.3l.3,-.1l.4,1.2l.4,.7l.3,0l.4,1.3l.4,-.4l.3,.2l.4,.6l.4,.6l.3,1.1l.4,-.5l.4,1.3l.3,-.1l.4,-.2l.3,1.5l.4,.5l.4,.6l.3,.2l.4,.5l.4,1l.3,-.5l.4,-.5l.4,1.9l.3,-.5l.4,.8l.4,.4l.3,.9l.4,.8l.4,.4l.3,.7l.4,-.3l.3,.5l.4,.5l.4,.7l.3,-.1l.4,.3l.4,1.6l.3,-.1l.4,.5l.4,.4l.3,.4l.4,.4l.4,.2l.3,.4l.4,-.1l.4,.3l.3,-.4l.4,1.9l.3,-.8l.4,.8l.4,.4l.3,-.5l.4,.3l.4,.9l.3,-.1l.4,.6l.4,-.2l.3,.7l.4,.7l.4,.7l.3,-1.6l.4,1l.4,.2l.3,.3l.4,.3l.3,.4l.4,-.4l.4,2.8l.3,-1.1l.4,-.8l.4,.4l.3,-.9l.4,.9l.4,-.7l.3,-2.2l.4,2.5l.4,-.4l.3,.4l.4,1.1l.4,-3.5l.3,3.6l.4,-.1l.3,-1.1l.4,.1l.4,.4l.3,.2l.4,0l.4,-.7l.3,.7l.4,-1l.4,1.1l.3,-.7l.4,2.2l.4,-2.4l.3,.5l.4,.2l.4,.1l.3,-1.3l.4,.4l.4,-.4l.3,1l.4,-2.2l.3,1.4l.4,-1.6l.4,.4l.3,0l.4,-.1l.4,-1.2l.3,-.5l.4,0l.4,.2l.3,-.7l.4,.3l.4,-.7l.3,0l.4,-.3l.4,-.6l.3,.5l.4,-.8l.3,-1.2l.4,1.5l.4,.1l.3,-.8l.4,-.5l.4,.6l.3,-.1l.4,-.8l.4,2.3l.3,-3.2l.4,.6l.4,-1.2l.3,1.1l.4,-.8l.4,.6l.3,-.6l.4,.2l.3,-.5l.4,-1l.4,.2l.3,-.1l.4,.1l.4,.4l.3,-1.3l.4,.4l.4,.5l.3,-.6l.4,-.6l.4,.5l.3,.6l.4,-.5l.4,-1l.3,1.5l.4,-1.8l.3,.9l.4,-.3l.4,1.6l.3,-1.3l.4,-.1l.4,-.7l.3,.7l.4,-.1l.4,-.1l.3,.4l.4,.3l.4,-1l.3,.4l.4,-.4l.4,1l.3,-.5l.4,-.8l.3,1.4l.4,-.6l.4,-.1l.3,0l.4,.7l.4,-.3l.3,.3l.4,.1l.4,-.3l.3,-.3l.4,-.3l.4,1.1l.3,-1.2l.4,1.9l.4,-.5l.3,.7l.4,-.3l.3,2.3l.4,-2.8l.4,1.1l.3,.7l.4,.3l.4,.9l.3,-.6l.4,1l.4,-.8l.3,1.2l.4,.3l.4,0l.3,-.4l.4,2.2l.4,1.1l.3,-.7l.4,0l.4,.6l.3,-.2l.4,2.1l.3,-.2l.4,.3l.4,1.2l.3,.1l.4,-.3l.4,-1.7l.3,3.2l.4,-.5l.4,1.8l.3,.7l.4,-1l.4,.9l.3,1.2l.4,-.7l.4,2.2l.3,-1l.4,1l.3,.2l.4,.5l.4,.8l.3,.3l.4,.1l.4,.3l.3,-.1l.4,1.7l.4,-.3l.3,.9l.4,1.1l.4,-.3l.3,1.1l.4,1.3l.4,-.1l.3,.8l.4,1.1l.3,.1l.4,0l.4,.7l.3,.9l.4,.6l.4,-.4l.3,.8l.4,.6l.4,.5l.3,.3l.4,.3l.4,.2l.3,-.5l.4,.3l.4,.3l.3,-.3l.4,.5l.3,-.9l.4,1.7l.4,-.7l.3,-.9l.4,1.3l.4,-.2l.3,-.3l.4,.9l.4,.3l.3,-1.1l.4,-.4l.4,.4l.3,-.7l.4,.8l.4,.2l.3,.3l.4,-.5l.3,.3l.4,.1l.4,-.4l.3,.9l.4,-.3l.4,-.4l.3,.7l.4,-.7l.4,.1l.3,0l.4,-.4l.4,-.2l.3,.2l.4,.3l.4,.3l.3,-.8l.4,.8l.3,-.2l.4,-.2l.4,0l.3,-.2l.4,-.5l.4,-.2l.3,.2l.4,.6l.4,-1.2l.3,.5l.4,.2l.4,-.5l.3,-.1l.4,0l.4,-.4l.3,-.6l.4,-.1l.4,-.3l.3,-.4l.4,-.8l.3,0l.4,0l.4,-.7l.3,1.6l.4,-.8l.4,-.6l.3,-.6l.4,0l.4,-.4l.3,-.5l.4,0l.4,-.7l.3,.2l.4,-.2l.4,.7l.3,-1.4l.4,-.3l.3,0l.4,-.9l.4,-.1l.3,-.5l.4,.5l.4,-1.6l.3,1l.4,-1.3l.4,.9l.3,-.8l.4,.5l.4,-.4l.3,-3.1l.4,2.1l.4,0l.3,-.2l.4,-.5l.3,.3l.4,-1l.4,1.2l.3,-.4l.4,.6l.4,-.4l.3,-.1l.4,-.6l.4,.1l.3,-.6l.4,.5l.4,-.2l.3,-.5l.4,1.3" fill="none" stroke="#ff8000" stroke-width="1.4" stroke-linejoin="round"/>
<path clip-path="url(#cb)" d="M648.7,177.6l1.5,-2.8l1.4,-2.4l1.5,-1.9l1.5,-1.5l1.4,-1l1.5,-.5l1.4,0l1.5,.4l1.5,.9l1.4,1.3l1.5,1.6l1.4,2.1l1.5,2.2l1.5,2.6l1.4,2.7l1.5,2.7l1.4,2.9l1.5,2.7l1.4,2.7l1.5,2.4l1.5,2.3l1.4,1.9l1.5,1.6l1.4,1.2l1.5,.8l1.5,.3l1.4,-.1l1.5,-.6l1.4,-1l1.5,-1.5l1.5,-1.9l1.4,-2.4l1.5,-2.7l1.4,-3l1.5,-3.4l1.4,-3.7l1.5,-3.9l1.5,-4.2l1.4,-4.3l1.5,-4.4l1.4,-4.6l1.5,-4.5l1.5,-4.5l1.4,-4.5l1.5,-4.3l1.4,-4.2l1.5,-4l1.5,-3.8l1.4,-3.4l1.5,-3.2l1.4,-2.8l1.5,-2.4l1.5,-2l1.4,-1.6l1.5,-1.2l1.4,-.7l1.5,-.2l1.4,.2l1.5,.6l1.5,.9l1.4,1.3l1.5,1.6l1.4,1.8l1.5,2l1.5,2.2l1.4,2.2l1.5,2.3l1.4,2.2l1.5,2l1.5,1.9l1.4,1.6l1.5,1.4l1.4,1l1.5,.7l1.5,.3l1.4,-.1l1.5,-.4l1.4,-.9l1.5,-1.1l1.4,-1.5l1.5,-1.8l1.5,-2.1l1.4,-2.4l1.5,-2.7l1.4,-2.9l1.5,-3.1l1.5,-3.3l1.4,-3.4l1.5,-3.6l1.4,-3.6l1.5,-3.7l1.5,-3.8l1.4,-3.7l1.5,-3.6l1.4,-3.6l1.5,-3.4l1.5,-3.3l1.4,-3.1l1.5,-2.9l1.4,-2.7l1.5,-2.4l1.4,-2.1l1.5,-1.8l1.5,-1.5l1.4,-1.1l1.5,-.9l1.4,-.4l1.5,-.1l1.5,.3l1.4,.7l1.5,1l1.4,1.4l1.5,1.6l1.5,1.9l1.4,2.1l1.5,2.1l1.4,2.3l1.5,2.2l1.4,2.1l1.5,2l1.5,1.7l1.4,1.6l1.5,1.2l1.4,.8l1.5,.5l1.5,.1l1.4,-.2l1.5,-.6l1.4,-.8l1.5,-1.2l1.5,-1.4l1.4,-1.7l1.5,-1.9l1.4,-2.2l1.5,-2.4l1.5,-2.5l1.4,-2.7l1.5,-2.9l1.4,-3l1.5,-3l1.4,-3l1.5,-3.1l1.5,-3l1.4,-3l1.5,-2.9l1.4,-2.8l1.5,-2.7l1.5,-2.4l1.4,-2.3l1.5,-2.1l1.4,-1.8l1.5,-1.6l1.5,-1.2l1.4,-1l1.5,-.7l1.4,-.4l1.5,-.1l1.5,.3l1.4,.8l1.5,1.2l1.4,1.6l1.5,1.9l1.4,2.2l1.5,2.5l1.5,2.6l1.4,2.8l1.5,2.9l1.4,2.8l1.5,2.8l1.5,2.6l1.4,2.4l1.5,2.1l1.4,1.9l1.5,1.4l1.5,1.1l1.4,.7l1.5,.2l1.4,-.1l1.5,-.5l1.5,-.7l1.4,-1l1.5,-1.2l1.4,-1.5l1.5,-1.7l1.4,-1.9l1.5,-2l1.5,-2.3l1.4,-2.3l1.5,-2.4l1.4,-2.5l1.5,-2.6l1.5,-2.5l1.4,-2.5l1.5,-2.4l1.4,-2.3l1.5,-2.2l1.5,-2l1.4,-1.9l1.5,-1.6l1.4,-1.4l1.5,-1.2l1.5,-.9l1.4,-.7l1.5,-.3l1.4,-.1l1.5,.4l1.4,.8l1.5,1.2l1.5,1.7l1.4,2.1l1.5,2.4l1.4,2.8l1.5,3l1.5,3.3l1.4,3.5l1.5,3.5l1.4,3.7l1.5,3.6l1.5,3.7l1.4,3.4l1.5,3.4l1.4,3.1l1.5,2.8l1.4,2.6l1.5,2.1l1.5,1.8l1.4,1.4l1.5,.9l1.4,.4l1.5,.1l1.5,-.4l1.4,-.6l1.5,-1l1.4,-1.2l1.5,-1.5l1.5,-1.8l1.4,-1.9l1.5,-2.2l1.4,-2.2l1.5,-2.4l1.5,-2.4l1.4,-2.3l1.5,-2.4l1.4,-2.2l1.5,-2.2l1.4,-1.9l1.5,-1.8l1.5,-1.5l1.4,-1.2l1.5,-1l1.4,-.6l1.5,-.4l1.5,.1l1.4,.5l1.5,1l1.4,1.6l1.5,2l1.5,2.6l1.4,2.9l1.5,3.3l1.4,3.7l1.5,4l1.5,4.3l1.4,4.4l1.5,4.6l1.4,4.7l1.5,4.7l1.4,4.7l1.5,4.6l1.5,4.4l1.4,4.3l1.5,4l1.4,3.7l1.5,3.3l1.5,2.9l1.4,2.6l1.5,2l1.4,1.6l1.5,1l1.5,.5l1.4,.1l1.5,-.4l1.4,-.7l1.5,-1l1.5,-1.3l1.4,-1.6l1.5,-1.9l1.4,-2l1.5,-2.2l1.4,-2.3l1.5,-2.3l1.5,-2.3l1.4,-2.3l1.5,-2.1l1.4,-2l1.5,-1.8l1.5,-1.5l1.4,-1.3l1.5,-.9l1.4,-.6l1.5,-.3l1.5,.2l1.4,.7l1.5,1.3l1.4,1.9l1.5,2.4l1.4,3l1.5,3.4l1.5,3.9l1.4,4.2l1.5,4.6l1.4,4.8l1.5,5.1l1.5,5.2l1.4,5.3l1.5,5.3l1.4,5.3l1.5,5.2l1.5,5l1.4,4.8l1.5,4.5l1.4,4.2l1.5,3.7l1.5,3.3l1.4,2.8l1.5,2.3l1.4,1.8l1.5,1.1l1.4,.6l1.5,.1l1.5,-.4l1.4,-.6l1.5,-.9l1.4,-1.2l1.5,-1.4l1.5,-1.7l1.4,-1.9l1.5,-2.1l1.4,-2.2l1.5,-2.3l1.5,-2.3l1.4,-2.4l1.5,-2.3l1.4,-2.3l1.5,-2.2l1.5,-2l1.4,-1.8l1.5,-1.7l1.4,-1.3l1.5,-1.2" fill="none" stroke="#008000" stroke-width="1.5" stroke-linejoin="round"/>
<path clip-path="url(#cb)" d="M648.7,182.1l.8,3.4l.7,3l.7,4l.7,4.9l.8,3.4l.7,4.2l.7,4.3l.8,4.5l.7,4.1l.7,4.7l.7,3.7l.8,4.4l.7,4.5l.7,4.8l.8,3.9l.7,4.5l.7,4.4l.8,3.6l.7,4.3l.7,3.5l.7,3.1l.8,3.6l.7,2.8l.7,2.5l.8,2.8l.7,2.9l.7,1.9l.8,1.8l.7,.9l.7,.9l.7,1.8l.8,.4l.7,.5l.7,0l.8,-.6l.7,-.5l.7,-.4l.7,-2.4l.8,-.7l.7,-1.9l.7,-2.4l.8,-2.2l.7,-2.2l.7,-3.2l.8,-3.9l.7,-2.3l.7,-3.5l.7,-4.4l.8,-4.1l.7,-3.8l.7,-4.7l.8,-4.7l.7,-4.1l.7,-5l.7,-4.7l.8,-4.8l.7,-5.3l.7,-5.5l.8,-5.3l.7,-4.5l.7,-4.9l.8,-5.8l.7,-4.7l.7,-5.4l.7,-5.1l.8,-4.1l.7,-5.4l.7,-4.2l.8,-4.4l.7,-4.1l.7,-4.4l.7,-4.2l.8,-3.6l.7,-3.6l.7,-3.2l.8,-2.5l.7,-3.6l.7,-2l.8,-2.5l.7,-2l.7,-1.6l.7,-1l.8,-1.2l.7,-1l.7,.1l.8,-.9l.7,.1l.7,.8l.8,.7l.7,.4l.7,1.8l.7,1.4l.8,2.1l.7,1.6l.7,1.5l.8,2.8l.7,3l.7,3.2l.7,2.9l.8,3.1l.7,3.5l.7,4.1l.8,3.1l.7,4.4l.7,3.4l.8,4.3l.7,4.6l.7,3.9l.7,4.4l.8,4.2l.7,3.8l.7,4.4l.8,3.6l.7,4.6l.7,4.3l.7,4.2l.8,3.2l.7,4l.7,3.5l.8,2.9l.7,3.1l.7,3.4l.8,2.6l.7,2.8l.7,1.8l.7,2l.8,2.8l.7,1.3l.7,1.5l.8,.9l.7,1l.7,.7l.8,.4l.7,-.2l.7,-.7l.7,-.3l.8,-.7l.7,-1.5l.7,-1.1l.8,-2.1l.7,-2.1l.7,-2.4l.7,-3l.8,-3.2l.7,-3.2l.7,-2.9l.8,-3.7l.7,-4.4l.7,-3.8l.8,-4.5l.7,-4.5l.7,-5.2l.7,-4.6l.8,-4.5l.7,-4.5l.7,-5.8l.8,-5l.7,-4.9l.7,-4.9l.7,-5.6l.8,-4.3l.7,-6.3l.7,-4.6l.8,-5l.7,-4.6l.7,-4.5l.8,-4.2l.7,-4.5l.7,-4.1l.7,-4.3l.8,-4.1l.7,-3.4l.7,-3.1l.8,-4.1l.7,-2.6l.7,-2.6l.7,-2.8l.8,-1.4l.7,-2.2l.7,-1l.8,-1.2l.7,-1.3l.7,0l.8,-1.2l.7,.4l.7,.8l.7,-.1l.8,1.2l.7,.6l.7,1.9l.8,.7l.7,2.5l.7,2.8l.8,1.6l.7,2.6l.7,2.2l.7,2.9l.8,3.1l.7,3l.7,3.8l.8,3.4l.7,3.2l.7,4l.7,3.8l.8,4.2l.7,4l.7,4.2l.8,3.9l.7,4.1l.7,4.6l.8,3.4l.7,4.7l.7,4.2l.7,3.6l.8,4.3l.7,2.8l.7,4.4l.8,3.6l.7,3.5l.7,2.5l.7,3.9l.8,3.4l.7,2.2l.7,2.9l.8,2.1l.7,2.7l.7,2.1l.8,1.2l.7,1.5l.7,1.8l.7,.9l.8,-.1l.7,1l.7,.5l.8,-.1l.7,-.6l.7,0l.7,-1.4l.8,-.9l.7,-1.3l.7,-2l.8,-2.3l.7,-1.8l.7,-3l.8,-2.5l.7,-2.6l.7,-3.1l.7,-3.8l.8,-3.2l.7,-4.1l.7,-3.9l.8,-3.3l.7,-4.4l.7,-4.5l.8,-4.4l.7,-4.7l.7,-4.5l.7,-4.8l.8,-4.9l.7,-5l.7,-4.1l.8,-4.4l.7,-5l.7,-5.2l.7,-4.4l.8,-4l.7,-5.1l.7,-4l.8,-4l.7,-4.7l.7,-2.7l.8,-4.3l.7,-3.2l.7,-3.5l.7,-3.3l.8,-2.7l.7,-2.8l.7,-2.1l.8,-1.9l.7,-1l.7,-2.6l.7,-.9l.8,-1.4l.7,-1.1l.7,.6l.8,-.8l.7,0l.7,.8l.8,0l.7,1.8l.7,1.1l.7,2.1l.8,1.3l.7,2.4l.7,2.5l.8,3.3l.7,2.2l.7,3.2l.8,3.4l.7,3.6l.7,5.2l.7,2.6l.8,4.4l.7,3.9l.7,5l.8,4.4l.7,4.4l.7,4.6l.7,4.8l.8,4.8l.7,4.8l.7,4.6l.8,4.5l.7,5.3l.7,4.6l.8,4.5l.7,3.9l.7,4.3l.7,4.3l.8,4.4l.7,3.2l.7,4l.8,3.3l.7,3.5l.7,2.8l.7,3l.8,2.1l.7,2.8l.7,1.9l.8,.8l.7,1.6l.7,.4l.8,1.2l.7,.5l.7,.3l.7,0l.8,-.3l.7,-1.3l.7,-.9l.8,-1l.7,-1.6l.7,-2.3l.7,-1.8l.8,-2.4l.7,-2.6l.7,-2.8l.8,-3.7l.7,-2.9l.7,-3.4l.8,-4l.7,-3.2l.7,-4.7l.7,-3.8l.8,-4.2l.7,-5.2l.7,-4l.8,-3.7l.7,-4.9l.7,-4.9l.8,-5.4l.7,-3.6l.7,-4.9l.7,-4.3l.8,-4.1l.7,-4.7l.7,-3.8l.8,-4.2l.7,-3.9l.7,-3.6l.7,-3.9l.8,-4.5l.7,-1.9l.7,-3l.8,-2.7l.7,-2.8l.7,-1.4l.8,-2.7l.7,-2l.7,-.8l.7,-1.4l.8,-.8l.7,-.6l.7,.3l.8,-.4l.7,.4l.7,.8l.7,.9l.8,.3l.7,2.1l.7,2l.8,1.7l.7,2.4l.7,3l.8,2.5l.7,3.2l.7,3.2l.7,3.2l.8,3.4l.7,3.8l.7,4.6l.8,4.4l.7,4.6l.7,4.3l.8,4.9l.7,4.1l.7,4.2l.7,5l.8,5.3l.7,5l.7,4.2l.8,5.1l.7,5.3l.7,4.6l.7,4l.8,5.4l.7,4.4l.7,4.3l.8,4.6l.7,4.2l.7,3.8l.8,3.6l.7,3.7l.7,3.7l.7,3.4l.8,3.3l.7,1.6l.7,3l.8,2.5l.7,2.1l.7,1.9l.7,.9l.8,1.1l.7,.5l.7,1.5l.8,-.2l.7,.5l.7,-.7l.8,-.5l.7,-.8l.7,-1.2l.7,-1.4l.8,-1.2l.7,-2.2l.7,-3.1l.8,-1.4l.7,-2.3l.7,-3.4l.7,-2.6l.8,-3.4l.7,-3.3l.7,-4.1l.8,-3.7l.7,-3.7l.7,-4.1l.8,-3.9l.7,-3.7l.7,-5l.7,-4.2l.8,-3.8l.7,-4.6l.7,-4.6l.8,-3.8l.7,-4.7l.7,-3.8l.8,-4.6l.7,-2.9l.7,-4.7l.7,-4l.8,-3.2l.7,-3.5l.7,-3.2l.8,-2.9l.7,-2.5l.7,-2.9l.7,-2.2l.8,-.8l.7,-3.1l.7,-1.6l.8,-1.3l.7,-.9l.7,-1.4l.8,-.7l.7,.6l.7,-.2l.7,.8l.8,.2l.7,1.5l.7,.2l.8,2.3l.7,1.4l.7,2.6l.7,2.6l.8,2l.7,3.1l.7,3.2l.8,3.4l.7,3.6l.7,3.6l.8,3.6l.7,4.3l.7,4.7l.7,4.4l.8,4.7l.7,5l.7,4.6l.8,4.8l.7,4.9l.7,5.1l.7,5.4l.8,5.3l.7,4.2l.7,5.1l.8,5.1l.7,5l.7,5.3l.8,4.3l.7,4.7l.7,4.4l.7,4.3l.8,5.3l.7,3.5l.7,4l.8,3.4l.7,4.3l.7,2.9l.8,3.6l.7,2.2l.7,2.9l.7,2.3l.8,1.8l.7,2.2l.7,1.5l.8,.5l.7,1.4l.7,.7l.7,.2l.8,.3l.7,-1.1l.7,0l.8,-.8l.7,-1.4l.7,-.9l.8,-1.9l.7,-2.1l.7,-2l.7,-2.1l.8,-2.7l.7,-3.2l.7,-2.6l.8,-2.8l.7,-4.3l.7,-3.2l.7,-3.7l.8,-4l.7,-3.5l.7,-3.9l.8,-4.6l.7,-4l.7,-4.4l.8,-3.7l.7,-4.9l.7,-4.2l.7,-4.2l.8,-4.2l.7,-4.1l.7,-3.8l.8,-3.6l.7,-3.4l.7,-4.1l.8,-2.9l.7,-4.1l.7,-2.7l.7,-3.4l.8,-2l.7,-3.1l.7,-2.3l.8,-1.2l.7,-2.4l.7,-1.2l.7,-1.2l.8,-1.1l.7,-.8l.7,.2l.8,-.7l.7,-.1l.7,.6l.8,.8l.7,1.2l.7,1.7l.7,1.9l.8,1.2l.7,2.9l.7,2.5l.8,2.8l.7,3.2l.7,2.7l.7,3.9l.8,4.3l.7,3.3l.7,5l.8,3.2l.7,5.2l.7,4.5l.8,4.7l.7,5l.7,5l.7,4.5l.8,5.7l.7,4.9l.7,5.3l.8,5.2l.7,5.1l.7,5.3l.7,4.5l.8,5.3l.7,4.6l.7,5.5l.8,4.9l.7,3.9l.7,4.5l.8,4.1l.7,4.1l.7,4.2l.7,3.6l.8,3.5l.7,2.3l.7,3.5l.8,2.9l.7,2.4l.7,1.8l.8,2.1l.7,.9l.7,1.9l.7,.8l.8,.8l.7,.6l.7,-.6l.8,-.4l.7,-.5l.7,-.9l.7,-1.5l.8,-1.4l.7,-1l.7,-2.9l.8,-1.3l.7,-2.8l.7,-2.6l.8,-2.9l.7,-2.9l.7,-3.7l.7,-3l.8,-4.6l.7,-3.3l.7,-4.2l.8,-3.9l.7,-4l.7,-3.9l.7,-5l.8,-4.3l.7,-4l.7,-4l.8,-5l.7,-4.5l.7,-3.7l.8,-4.1l.7,-4.6l.7,-3.5l.7,-4.2l.8,-3.2l.7,-3.9l.7,-2.6l.8,-3.7l.7,-2l.7,-4.2l.8,-2.1l.7,-2l.7,-1.7l.7,-1.7l.8,-1.4l.7,-2l.7,-1.2l.8,-.2l.7,.6l.7,.2l.7,0l.8,0l.7,1.3l.7,.6l.8,1.7l.7,1.1l.7,1.7l.8,3.1l.7,1.8l.7,2.4l.7,2.8l.8,3l.7,2.8l.7,3.5l.8,4.1l.7,3.2" fill="none" stroke="#0000ff" stroke-width="1.4" stroke-linejoin="round"/>
<path d="M248.0,356.5L248.0,339.5M248.0,17.5L248.0,34.5M375.3,356.5L375.3,339.5M375.3,17.5L375.3,34.5M502.7,356.5L502.7,339.5M502.7,17.5L502.7,34.5M184.3,356.5L184.3,347.0M184.3,17.5L184.3,27.0M311.7,356.5L311.7,347.0M311.7,17.5L311.7,27.0M439.0,356.5L439.0,347.0M439.0,17.5L439.0,27.0M566.4,356.5L566.4,347.0M566.4,17.5L566.4,27.0M120.5,279.5L137.5,279.5M120.5,202.4L137.5,202.4M120.5,125.3L137.5,125.3M120.5,48.2L137.5,48.2M120.5,318.1L130.0,318.1M120.5,241.0L130.0,241.0M120.5,163.9L130.0,163.9M120.5,86.8L130.0,86.8M630.0,310.1L613.0,310.1M630.0,248.3L613.0,248.3M630.0,186.5L613.0,186.5M630.0,124.7L613.0,124.7M630.0,62.9L613.0,62.9M630.0,341.0L620.5,341.0M630.0,279.2L620.5,279.2M630.0,217.4L620.5,217.4M630.0,155.6L620.5,155.6M630.0,93.8L620.5,93.8M630.0,32.0L620.5,32.0M685.2,356.5L685.2,339.5M685.2,17.5L685.2,34.5M867.6,356.5L867.6,339.5M867.6,17.5L867.6,34.5M1050.0,356.5L1050.0,339.5M1050.0,17.5L1050.0,34.5M776.4,356.5L776.4,347.0M776.4,17.5L776.4,27.0M958.8,356.5L958.8,347.0M958.8,17.5L958.8,27.0M1141.2,356.5L1141.2,347.0M1141.2,17.5L1141.2,27.0M649.2,279.5L666.2,279.5M649.2,202.4L666.2,202.4M649.2,125.3L666.2,125.3M649.2,48.2L666.2,48.2M649.2,318.1L658.7,318.1M649.2,241.0L658.7,241.0M649.2,163.9L658.7,163.9M649.2,86.8L658.7,86.8M1159.0,310.1L1142.0,310.1M1159.0,248.3L1142.0,248.3M1159.0,186.5L1142.0,186.5M1159.0,124.7L1142.0,124.7M1159.0,62.9L1142.0,62.9M1159.0,341.0L1149.5,341.0M1159.0,279.2L1149.5,279.2M1159.0,217.4L1149.5,217.4M1159.0,155.6L1149.5,155.6M1159.0,93.8L1149.5,93.8M1159.0,32.0L1149.5,32.0" stroke="#000" stroke-width="2.8" fill="none"/>
<rect x="120.5" y="17.5" width="509.5" height="339.0" fill="none" stroke="#000" stroke-width="2.8"/>
<rect x="649.2" y="17.5" width="509.8" height="339.0" fill="none" stroke="#000" stroke-width="2.8"/>
<text x="104.9" y="366.1" font-size="37.0" text-anchor="end" font-family="'Liberation Sans', sans-serif" >4.7</text>
<text x="104.9" y="289.0" font-size="37.0" text-anchor="end" font-family="'Liberation Sans', sans-serif" >4.8</text>
<text x="104.9" y="211.9" font-size="37.0" text-anchor="end" font-family="'Liberation Sans', sans-serif" >4.9</text>
<text x="104.9" y="134.8" font-size="37.0" text-anchor="end" font-family="'Liberation Sans', sans-serif" >5.0</text>
<text x="53.5" y="57.7" font-size="37.0" text-anchor="start" font-family="'Liberation Sans', sans-serif" >5.</text>
<path transform="translate(83.42,57.70) scale(0.01807,-0.01807) scale(1,0.961)" d="M763,0L583,0L583,1147C540,1106 480,1062 410,1018C340,976 277,945 223,927L223,1101C322,1147 408,1203 481,1268C554,1333 606,1399 636,1466L763,1466Z" fill="#000"/>
<text x="1177.1" y="319.6" font-size="37.0" text-anchor="start" font-family="'Liberation Sans', sans-serif" >34600</text>
<text x="1177.1" y="257.8" font-size="37.0" text-anchor="start" font-family="'Liberation Sans', sans-serif" >34800</text>
<text x="1177.1" y="196.0" font-size="37.0" text-anchor="start" font-family="'Liberation Sans', sans-serif" >35000</text>
<text x="1177.1" y="134.2" font-size="37.0" text-anchor="start" font-family="'Liberation Sans', sans-serif" >35200</text>
<text x="1177.1" y="72.4" font-size="37.0" text-anchor="start" font-family="'Liberation Sans', sans-serif" >35400</text>
<text x="249.0" y="402.8" font-size="37.0" text-anchor="middle" font-family="'Liberation Sans', sans-serif" >3000</text>
<text x="376.3" y="402.8" font-size="37.0" text-anchor="middle" font-family="'Liberation Sans', sans-serif" >4000</text>
<text x="503.7" y="402.8" font-size="37.0" text-anchor="middle" font-family="'Liberation Sans', sans-serif" >5000</text>
<text x="686.2" y="402.8" font-size="37.0" text-anchor="middle" font-family="'Liberation Sans', sans-serif" >4000</text>
<text x="868.6" y="402.8" font-size="37.0" text-anchor="middle" font-family="'Liberation Sans', sans-serif" >4500</text>
<text x="1051.0" y="402.8" font-size="37.0" text-anchor="middle" font-family="'Liberation Sans', sans-serif" >5000</text>
<text x="361.9" y="464.3" font-size="45.0" text-anchor="middle" font-family="'Liberation Sans', sans-serif" >Time [s]</text>
<text x="890.3" y="464.3" font-size="45.0" text-anchor="middle" font-family="'Liberation Sans', sans-serif" >Time [s]</text>
<text x="1.0" y="31.5" font-size="55.0" text-anchor="start" font-family="'Liberation Sans', sans-serif" >a</text>
<text x="1293.0" y="39.5" font-size="55.0" text-anchor="start" font-family="'Liberation Sans', sans-serif" >b</text>
<text transform="translate(31.7,228.3) rotate(-90)" font-size="45" font-family="'Liberation Sans', sans-serif"><tspan font-style="italic">T</tspan><tspan dx="-3.7"> [K]</tspan></text>
<text transform="translate(1322.8,243.7) rotate(-90)" font-size="45" font-family="'Liberation Sans', sans-serif"><tspan font-style="italic">p</tspan><tspan dx="-2.3"> [Pa]</tspan></text>
<path d="M131.7,308H212.7" stroke="#ff0000" stroke-width="1.6"/>
<path d="M382.1,308H462.3" stroke="#0000ff" stroke-width="1.6"/>
<path d="M685,310H784" stroke="#008000" stroke-width="1.6"/>
<path d="M854.6,310H953.8" stroke="#ff8000" stroke-width="1.6"/>
<text x="223.6" y="320.2" font-size="37.0" text-anchor="start" font-family="'Liberation Sans', sans-serif" font-style="italic">T</text>
<text x="244.0" y="332.9" font-size="29.5" text-anchor="start" font-family="'Liberation Sans', sans-serif" >B</text>
<text x="473.0" y="320.2" font-size="37.0" text-anchor="start" font-family="'Liberation Sans', sans-serif" font-style="italic">T</text>
<text x="493.8" y="333.3" font-size="29.5" text-anchor="start" font-family="'Liberation Sans', sans-serif" >T</text>
<text x="796.4" y="324.4" font-size="44.3" text-anchor="start" font-family="'Liberation Sans', sans-serif" font-style="italic">p</text>
<text x="966.6" y="324.1" font-size="44.5" text-anchor="start" font-family="'Liberation Sans', sans-serif" font-style="italic">T</text>
<text x="991.9" y="339.2" font-size="36.0" text-anchor="start" font-family="'Liberation Sans', sans-serif" >Ge</text>
<text x="1039.4" y="308.1" font-size="35.3" text-anchor="start" font-family="'Liberation Sans', sans-serif" >05</text>
</svg></body></html>
